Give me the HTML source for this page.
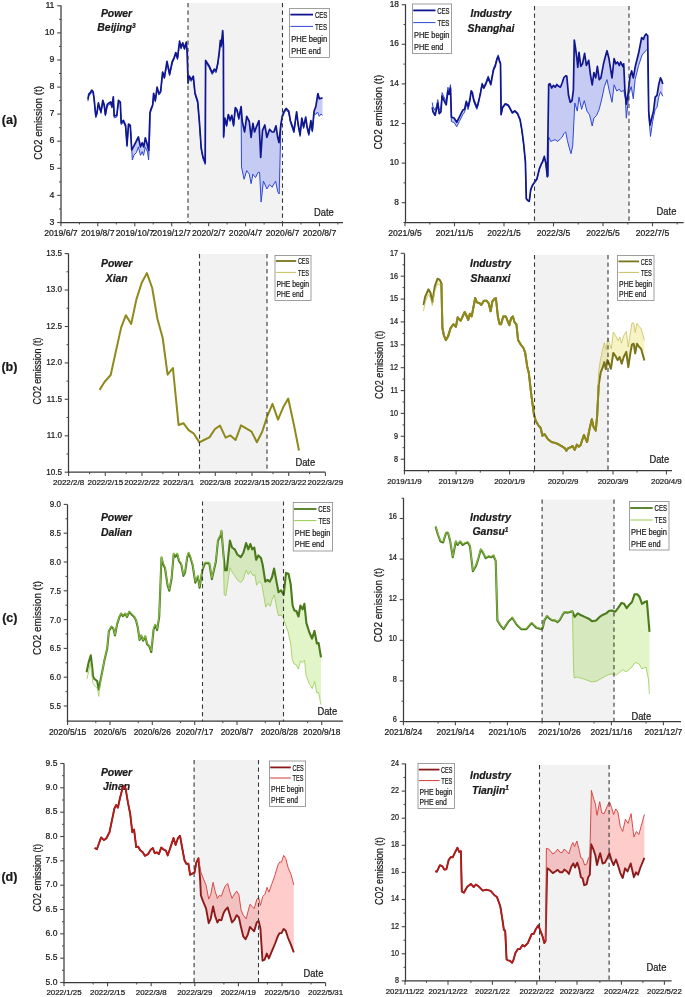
<!DOCTYPE html>
<html><head><meta charset="utf-8"><style>
html,body{margin:0;padding:0;background:#fff;}
svg{display:block;font-family:"Liberation Sans",sans-serif;}
text{stroke:#1a1a1a;stroke-width:0.22px;}
</style></head><body>
<svg width="685" height="997" viewBox="0 0 685 997">
<rect width="685" height="997" fill="#fff"/>
<rect x="188.0" y="3.0" width="94.5" height="219.5" fill="#f2f2f2"/>
<text x="116.5" y="17.0" font-size="10.4" font-weight="bold" font-style="italic" text-anchor="middle" fill="#1a1a1a">Power</text>
<text x="116.5" y="31.0" font-size="10.4" font-weight="bold" font-style="italic" text-anchor="middle" fill="#1a1a1a">Beijing<tspan font-size="6.5" dy="-3.5">3</tspan></text>
<polygon points="87.9,99.4 88.8,94.2 90.5,92.4 91.7,90.1 93.1,91.5 94.0,97.7 95.8,116.0 97.0,112.6 98.4,102.9 99.6,107.3 101.0,111.7 102.8,100.3 104.2,104.7 105.4,114.3 107.2,104.7 108.9,102.9 110.7,102.0 112.0,106.4 113.3,96.8 114.2,116.0 116.8,115.2 118.5,100.3 120.3,102.0 121.2,122.9 123.4,120.4 125.6,125.3 127.0,145.0 128.5,124.0 130.3,125.5 131.7,150.0 133.4,146.9 136.4,141.0 138.4,137.0 140.5,146.9 142.2,142.7 143.8,146.9 145.3,137.8 147.0,143.5 148.7,150.5 150.0,112.6 151.0,109.0 152.7,104.7 153.6,93.3 155.3,100.3 157.1,87.2 158.8,93.3 160.6,91.5 162.6,72.0 164.4,77.1 167.0,61.3 169.6,74.0 172.3,61.3 174.0,57.8 175.8,52.6 177.5,58.0 179.6,41.2 181.0,47.3 182.8,42.9 184.5,48.2 186.3,42.0 187.2,52.6 188.0,82.3 189.4,76.2 191.2,79.7 193.3,76.2 195.0,92.9 197.7,101.6 199.4,121.5 201.2,147.8 202.9,156.6 205.2,162.7 205.6,60.4 209.0,65.7 212.2,72.7 214.3,69.2 216.0,71.0 217.8,63.1 219.2,52.6 220.4,40.3 221.3,45.5 222.7,30.7 223.4,45.5 223.6,136.4 224.8,118.0 226.6,125.0 228.3,114.5 230.1,119.8 231.8,115.4 233.6,125.0 235.3,107.5 237.1,110.1 238.8,118.0 241.1,106.6 242.3,121.5 244.6,132.0 246.7,116.3 249.3,121.5 251.1,137.3 252.9,123.3 254.6,132.0 256.4,126.8 259.0,120.7 260.7,157.4 262.5,130.3 264.8,125.0 266.9,137.3 269.5,129.4 272.1,132.0 273.9,132.0 276.0,125.9 277.7,137.3 279.0,142.6 280.8,125.0 282.2,116.3 284.3,111.0 286.1,108.4 288.7,111.0 290.4,120.7 292.2,125.9 293.9,131.2 296.6,111.9 298.3,125.0 300.1,134.7 301.8,118.0 303.6,126.8 305.7,117.2 307.1,126.8 308.8,133.8 310.9,120.7 312.3,130.3 314.1,111.0 315.8,106.6 317.9,93.5 319.3,98.8 322.5,97.9 322.5,115.4 321.0,114.0 319.3,116.3 317.5,112.0 315.8,114.5 314.1,113.0 312.3,132.1 310.9,122.5 308.8,135.6 307.1,128.6 305.7,119.0 303.6,128.6 301.8,119.8 300.1,136.5 298.3,126.8 296.6,113.7 293.9,133.0 292.2,127.7 290.4,122.5 288.7,112.8 286.1,110.2 284.3,112.8 282.2,118.1 280.8,127.0 279.2,194.0 277.7,191.6 275.6,181.1 272.1,187.2 269.5,184.6 266.9,189.0 263.4,181.1 261.1,202.1 259.6,172.3 258.1,172.3 255.5,177.6 252.9,174.1 251.1,183.7 249.3,174.1 246.7,170.6 244.1,179.3 241.5,167.1 241.1,108.6 238.8,119.8 237.1,111.9 235.3,109.3 233.6,126.8 231.8,117.2 230.1,121.6 228.3,116.3 226.6,126.8 224.8,119.8 223.6,138.2 223.4,47.3 222.7,32.5 221.3,47.3 220.4,42.1 219.2,54.4 217.8,64.9 216.0,72.8 214.3,71.0 212.2,74.5 209.0,67.5 205.6,62.2 205.2,164.5 202.9,158.4 201.2,149.6 199.4,123.3 197.7,103.4 195.0,94.7 193.3,78.0 191.2,81.5 189.4,78.0 188.0,84.1 187.2,54.4 186.3,43.8 184.5,50.0 182.8,44.7 181.0,49.1 179.6,43.0 177.5,59.8 175.8,54.4 174.0,59.6 172.3,63.1 169.6,75.8 167.0,63.1 164.4,78.9 162.6,73.8 160.6,93.3 158.8,95.1 157.1,89.0 155.3,102.1 153.6,95.1 152.7,106.5 151.0,110.8 150.0,114.4 149.8,135.0 148.6,160.0 147.5,152.0 145.3,147.2 143.5,155.4 142.2,151.6 140.5,155.4 138.4,146.9 136.4,152.6 134.0,155.0 132.3,160.0 131.0,135.0 130.3,127.3 128.5,125.8 127.0,146.8 125.6,127.1 123.4,122.2 121.2,124.7 120.3,103.8 118.5,102.1 116.8,117.0 114.2,117.8 113.3,98.6 112.0,108.2 110.7,103.8 108.9,104.7 107.2,106.5 105.4,116.1 104.2,106.5 102.8,102.1 101.0,113.5 99.6,109.1 98.4,104.7 97.0,114.4 95.8,117.8 94.0,99.5 93.1,93.3 91.7,91.9 90.5,94.2 88.8,96.0 87.9,101.2" fill="#c5cbf2" stroke="none"/>
<polyline points="87.9,101.2 88.8,96.0 90.5,94.2 91.7,91.9 93.1,93.3 94.0,99.5 95.8,117.8 97.0,114.4 98.4,104.7 99.6,109.1 101.0,113.5 102.8,102.1 104.2,106.5 105.4,116.1 107.2,106.5 108.9,104.7 110.7,103.8 112.0,108.2 113.3,98.6 114.2,117.8 116.8,117.0 118.5,102.1 120.3,103.8 121.2,124.7 123.4,122.2 125.6,127.1 127.0,146.8 128.5,125.8 130.3,127.3 131.0,135.0 132.3,160.0 134.0,155.0 136.4,152.6 138.4,146.9 140.5,155.4 142.2,151.6 143.5,155.4 145.3,147.2 147.5,152.0 148.6,160.0 149.8,135.0 150.0,114.4 151.0,110.8 152.7,106.5 153.6,95.1 155.3,102.1 157.1,89.0 158.8,95.1 160.6,93.3 162.6,73.8 164.4,78.9 167.0,63.1 169.6,75.8 172.3,63.1 174.0,59.6 175.8,54.4 177.5,59.8 179.6,43.0 181.0,49.1 182.8,44.7 184.5,50.0 186.3,43.8 187.2,54.4 188.0,84.1 189.4,78.0 191.2,81.5 193.3,78.0 195.0,94.7 197.7,103.4 199.4,123.3 201.2,149.6 202.9,158.4 205.2,164.5 205.6,62.2 209.0,67.5 212.2,74.5 214.3,71.0 216.0,72.8 217.8,64.9 219.2,54.4 220.4,42.1 221.3,47.3 222.7,32.5 223.4,47.3 223.6,138.2 224.8,119.8 226.6,126.8 228.3,116.3 230.1,121.6 231.8,117.2 233.6,126.8 235.3,109.3 237.1,111.9 238.8,119.8 241.1,108.6 241.5,167.1 244.1,179.3 246.7,170.6 249.3,174.1 251.1,183.7 252.9,174.1 255.5,177.6 258.1,172.3 259.6,172.3 261.1,202.1 263.4,181.1 266.9,189.0 269.5,184.6 272.1,187.2 275.6,181.1 277.7,191.6 279.2,194.0 280.8,127.0 282.2,118.1 284.3,112.8 286.1,110.2 288.7,112.8 290.4,122.5 292.2,127.7 293.9,133.0 296.6,113.7 298.3,126.8 300.1,136.5 301.8,119.8 303.6,128.6 305.7,119.0 307.1,128.6 308.8,135.6 310.9,122.5 312.3,132.1 314.1,113.0 315.8,114.5 317.5,112.0 319.3,116.3 321.0,114.0 322.5,115.4" fill="none" stroke="#3048d8" stroke-width="1.0" stroke-linejoin="round"/>
<polyline points="87.9,99.4 88.8,94.2 90.5,92.4 91.7,90.1 93.1,91.5 94.0,97.7 95.8,116.0 97.0,112.6 98.4,102.9 99.6,107.3 101.0,111.7 102.8,100.3 104.2,104.7 105.4,114.3 107.2,104.7 108.9,102.9 110.7,102.0 112.0,106.4 113.3,96.8 114.2,116.0 116.8,115.2 118.5,100.3 120.3,102.0 121.2,122.9 123.4,120.4 125.6,125.3 127.0,145.0 128.5,124.0 130.3,125.5 131.7,150.0 133.4,146.9 136.4,141.0 138.4,137.0 140.5,146.9 142.2,142.7 143.8,146.9 145.3,137.8 147.0,143.5 148.7,150.5 150.0,112.6 151.0,109.0 152.7,104.7 153.6,93.3 155.3,100.3 157.1,87.2 158.8,93.3 160.6,91.5 162.6,72.0 164.4,77.1 167.0,61.3 169.6,74.0 172.3,61.3 174.0,57.8 175.8,52.6 177.5,58.0 179.6,41.2 181.0,47.3 182.8,42.9 184.5,48.2 186.3,42.0 187.2,52.6 188.0,82.3 189.4,76.2 191.2,79.7 193.3,76.2 195.0,92.9 197.7,101.6 199.4,121.5 201.2,147.8 202.9,156.6 205.2,162.7 205.6,60.4 209.0,65.7 212.2,72.7 214.3,69.2 216.0,71.0 217.8,63.1 219.2,52.6 220.4,40.3 221.3,45.5 222.7,30.7 223.4,45.5 223.6,136.4 224.8,118.0 226.6,125.0 228.3,114.5 230.1,119.8 231.8,115.4 233.6,125.0 235.3,107.5 237.1,110.1 238.8,118.0 241.1,106.6 242.3,121.5 244.6,132.0 246.7,116.3 249.3,121.5 251.1,137.3 252.9,123.3 254.6,132.0 256.4,126.8 259.0,120.7 260.7,157.4 262.5,130.3 264.8,125.0 266.9,137.3 269.5,129.4 272.1,132.0 273.9,132.0 276.0,125.9 277.7,137.3 279.0,142.6 280.8,125.0 282.2,116.3 284.3,111.0 286.1,108.4 288.7,111.0 290.4,120.7 292.2,125.9 293.9,131.2 296.6,111.9 298.3,125.0 300.1,134.7 301.8,118.0 303.6,126.8 305.7,117.2 307.1,126.8 308.8,133.8 310.9,120.7 312.3,130.3 314.1,111.0 315.8,106.6 317.9,93.5 319.3,98.8 322.5,97.9" fill="none" stroke="#10168f" stroke-width="1.7" stroke-linejoin="round"/>
<line x1="188.0" y1="3.0" x2="188.0" y2="222.5" stroke="#383838" stroke-width="1.1" stroke-dasharray="4.2,3.32"/>
<line x1="282.5" y1="3.0" x2="282.5" y2="222.5" stroke="#383838" stroke-width="1.1" stroke-dasharray="4.2,3.32"/>
<line x1="61.0" y1="5.3" x2="61.0" y2="223.2" stroke="#3a3a3a" stroke-width="1.25"/>
<line x1="60.3" y1="222.5" x2="343.0" y2="222.5" stroke="#3a3a3a" stroke-width="1.25"/>
<line x1="57.2" y1="222.5" x2="61.0" y2="222.5" stroke="#484848" stroke-width="1.1"/>
<text transform="translate(54.5,224.6) scale(1.0,1)" font-size="8.77" text-anchor="end" fill="#1a1a1a">3</text>
<line x1="57.2" y1="195.4" x2="61.0" y2="195.4" stroke="#484848" stroke-width="1.1"/>
<text transform="translate(54.5,197.5) scale(1.0,1)" font-size="8.77" text-anchor="end" fill="#1a1a1a">4</text>
<line x1="57.2" y1="168.3" x2="61.0" y2="168.3" stroke="#484848" stroke-width="1.1"/>
<text transform="translate(54.5,170.4) scale(1.0,1)" font-size="8.77" text-anchor="end" fill="#1a1a1a">5</text>
<line x1="57.2" y1="141.2" x2="61.0" y2="141.2" stroke="#484848" stroke-width="1.1"/>
<text transform="translate(54.5,143.3) scale(1.0,1)" font-size="8.77" text-anchor="end" fill="#1a1a1a">6</text>
<line x1="57.2" y1="114.1" x2="61.0" y2="114.1" stroke="#484848" stroke-width="1.1"/>
<text transform="translate(54.5,116.2) scale(1.0,1)" font-size="8.77" text-anchor="end" fill="#1a1a1a">7</text>
<line x1="57.2" y1="87.1" x2="61.0" y2="87.1" stroke="#484848" stroke-width="1.1"/>
<text transform="translate(54.5,89.2) scale(1.0,1)" font-size="8.77" text-anchor="end" fill="#1a1a1a">8</text>
<line x1="57.2" y1="60.0" x2="61.0" y2="60.0" stroke="#484848" stroke-width="1.1"/>
<text transform="translate(54.5,62.1) scale(1.0,1)" font-size="8.77" text-anchor="end" fill="#1a1a1a">9</text>
<line x1="57.2" y1="32.9" x2="61.0" y2="32.9" stroke="#484848" stroke-width="1.1"/>
<text transform="translate(54.5,35.0) scale(1.0,1)" font-size="8.77" text-anchor="end" fill="#1a1a1a">10</text>
<line x1="57.2" y1="5.8" x2="61.0" y2="5.8" stroke="#484848" stroke-width="1.1"/>
<text transform="translate(54.5,7.9) scale(1.0,1)" font-size="8.77" text-anchor="end" fill="#1a1a1a">11</text>
<line x1="59.0" y1="209.0" x2="61.0" y2="209.0" stroke="#484848" stroke-width="1.0"/>
<line x1="59.0" y1="181.9" x2="61.0" y2="181.9" stroke="#484848" stroke-width="1.0"/>
<line x1="59.0" y1="154.8" x2="61.0" y2="154.8" stroke="#484848" stroke-width="1.0"/>
<line x1="59.0" y1="127.7" x2="61.0" y2="127.7" stroke="#484848" stroke-width="1.0"/>
<line x1="59.0" y1="100.6" x2="61.0" y2="100.6" stroke="#484848" stroke-width="1.0"/>
<line x1="59.0" y1="73.5" x2="61.0" y2="73.5" stroke="#484848" stroke-width="1.0"/>
<line x1="59.0" y1="46.4" x2="61.0" y2="46.4" stroke="#484848" stroke-width="1.0"/>
<line x1="59.0" y1="19.3" x2="61.0" y2="19.3" stroke="#484848" stroke-width="1.0"/>
<line x1="60.9" y1="222.5" x2="60.9" y2="226.3" stroke="#484848" stroke-width="1.1"/>
<text x="60.9" y="236.0" font-size="8.6" text-anchor="middle" fill="#1a1a1a">2019/6/7</text>
<line x1="97.8" y1="222.5" x2="97.8" y2="226.3" stroke="#484848" stroke-width="1.1"/>
<text x="97.8" y="236.0" font-size="8.6" text-anchor="middle" fill="#1a1a1a">2019/8/7</text>
<line x1="134.8" y1="222.5" x2="134.8" y2="226.3" stroke="#484848" stroke-width="1.1"/>
<text x="134.8" y="236.0" font-size="8.6" text-anchor="middle" fill="#1a1a1a">2019/10/7</text>
<line x1="171.7" y1="222.5" x2="171.7" y2="226.3" stroke="#484848" stroke-width="1.1"/>
<text x="171.7" y="236.0" font-size="8.6" text-anchor="middle" fill="#1a1a1a">2019/12/7</text>
<line x1="208.7" y1="222.5" x2="208.7" y2="226.3" stroke="#484848" stroke-width="1.1"/>
<text x="208.7" y="236.0" font-size="8.6" text-anchor="middle" fill="#1a1a1a">2020/2/7</text>
<line x1="245.6" y1="222.5" x2="245.6" y2="226.3" stroke="#484848" stroke-width="1.1"/>
<text x="245.6" y="236.0" font-size="8.6" text-anchor="middle" fill="#1a1a1a">2020/4/7</text>
<line x1="282.5" y1="222.5" x2="282.5" y2="226.3" stroke="#484848" stroke-width="1.1"/>
<text x="282.5" y="236.0" font-size="8.6" text-anchor="middle" fill="#1a1a1a">2020/6/7</text>
<line x1="319.5" y1="222.5" x2="319.5" y2="226.3" stroke="#484848" stroke-width="1.1"/>
<text x="319.5" y="236.0" font-size="8.6" text-anchor="middle" fill="#1a1a1a">2020/8/7</text>
<line x1="79.4" y1="222.5" x2="79.4" y2="224.5" stroke="#484848" stroke-width="1.0"/>
<line x1="116.3" y1="222.5" x2="116.3" y2="224.5" stroke="#484848" stroke-width="1.0"/>
<line x1="153.2" y1="222.5" x2="153.2" y2="224.5" stroke="#484848" stroke-width="1.0"/>
<line x1="190.2" y1="222.5" x2="190.2" y2="224.5" stroke="#484848" stroke-width="1.0"/>
<line x1="227.1" y1="222.5" x2="227.1" y2="224.5" stroke="#484848" stroke-width="1.0"/>
<line x1="264.1" y1="222.5" x2="264.1" y2="224.5" stroke="#484848" stroke-width="1.0"/>
<line x1="301.0" y1="222.5" x2="301.0" y2="224.5" stroke="#484848" stroke-width="1.0"/>
<line x1="337.9" y1="222.5" x2="337.9" y2="224.5" stroke="#484848" stroke-width="1.0"/>
<rect x="289.6" y="8.4" width="39.8" height="49.0" fill="#fff" stroke="#888" stroke-width="0.8"/>
<line x1="290.4" y1="14.6" x2="313.0" y2="14.6" stroke="#10168f" stroke-width="1.8"/>
<line x1="290.4" y1="26.4" x2="313.0" y2="26.4" stroke="#3048d8" stroke-width="1.0"/>
<text x="314.9" y="17.9" font-size="8.5" fill="#1a1a1a" textLength="12.5" lengthAdjust="spacingAndGlyphs">CES</text>
<text x="315.1" y="29.7" font-size="8.5" fill="#1a1a1a" textLength="12.0" lengthAdjust="spacingAndGlyphs">TES</text>
<text x="291.2" y="42.0" font-size="8.5" fill="#1a1a1a" textLength="36.0" lengthAdjust="spacingAndGlyphs">PHE begin</text>
<text x="291.2" y="53.7" font-size="8.5" fill="#1a1a1a" textLength="29.8" lengthAdjust="spacingAndGlyphs">PHE end</text>
<text x="314.0" y="216.0" font-size="10.4" fill="#1a1a1a" textLength="19.8" lengthAdjust="spacingAndGlyphs">Date</text>
<text x="0" y="0" transform="translate(41.9,122.8) rotate(-90)" font-size="10.3" text-anchor="middle" fill="#1a1a1a" textLength="73.8" lengthAdjust="spacingAndGlyphs">CO2 emission (t)</text>
<text x="1.8" y="124.0" font-size="12.5" font-weight="bold" fill="#1a1a1a">(a)</text>
<rect x="534.5" y="6.0" width="94.5" height="216.5" fill="#f2f2f2"/>
<text x="491.0" y="17.0" font-size="10.4" font-weight="bold" font-style="italic" text-anchor="middle" fill="#1a1a1a">Industry</text>
<text x="491.0" y="31.6" font-size="10.4" font-weight="bold" font-style="italic" text-anchor="middle" fill="#1a1a1a">Shanghai</text>
<polygon points="432.2,107.4 433.0,111.8 435.1,115.3 436.5,109.2 437.8,103.1 439.2,113.6 440.9,111.8 442.1,96.1 443.9,100.4 446.2,104.8 447.9,90.8 449.1,94.3 450.5,88.2 451.4,117.1 454.1,118.0 456.7,122.3 459.3,117.1 462.8,110.1 464.6,109.2 466.3,101.3 468.1,106.6 469.8,99.6 471.2,90.8 472.4,92.6 473.7,99.6 475.1,103.1 476.8,107.4 478.2,103.1 480.3,94.3 482.1,84.7 483.8,88.2 485.6,84.7 488.2,77.7 490.8,84.7 493.5,69.8 495.2,66.3 497.0,59.3 498.2,56.6 499.6,61.9 500.5,63.7 501.1,114.3 502.6,107.3 505.3,103.8 507.9,104.7 509.6,107.3 512.3,112.6 514.9,110.8 517.5,113.4 520.1,119.6 521.9,130.1 523.7,144.1 525.4,161.6 526.3,198.4 527.7,200.2 529.3,201.0 530.7,189.6 532.4,185.3 534.2,182.6 536.8,179.1 539.4,168.6 541.2,164.2 542.6,161.6 544.3,156.4 545.9,163.4 547.3,176.5 548.7,84.5 549.9,83.7 551.7,88.0 553.4,85.4 555.2,87.2 556.9,84.5 558.7,86.3 560.4,87.2 562.2,82.8 563.9,77.5 565.7,75.8 566.8,76.1 568.5,95.3 570.3,102.3 572.0,100.6 573.4,90.1 574.3,40.1 575.5,48.0 576.9,58.5 577.8,67.3 579.0,52.4 580.8,66.4 582.5,63.8 584.6,53.3 586.4,65.5 588.7,60.3 590.4,74.3 592.2,84.8 593.9,72.6 595.7,77.8 597.4,66.4 599.2,79.6 600.9,77.8 603.5,63.8 605.3,56.8 607.0,50.7 608.8,57.7 610.6,69.1 612.0,77.8 614.1,58.5 615.8,63.8 617.6,62.0 619.3,65.5 620.7,62.0 622.8,66.4 623.7,63.8 624.9,90.1 626.3,104.1 628.1,93.6 629.8,77.8 631.6,70.8 633.3,77.8 635.1,67.3 636.8,60.3 638.6,53.3 640.3,44.5 641.7,37.5 643.5,39.3 644.7,35.8 646.1,34.0 647.7,35.8 648.7,111.1 650.0,125.1 651.7,118.1 653.5,111.1 655.2,97.1 657.0,95.3 658.7,84.8 660.5,77.8 661.7,80.4 662.8,83.9 662.8,96.2 660.5,91.8 658.7,97.1 657.0,107.6 655.2,109.3 652.6,121.6 650.5,136.5 648.7,114.6 647.7,50.7 646.5,49.8 642.1,55.0 638.6,65.5 635.1,79.6 633.3,98.8 631.2,86.6 629.0,93.6 626.3,118.1 625.4,98.8 623.7,90.1 621.1,91.8 619.3,89.2 616.7,91.0 614.1,84.8 612.0,102.3 609.1,90.1 607.0,79.6 604.4,86.6 601.8,98.8 599.2,109.3 596.5,115.5 593.9,118.1 592.2,126.0 589.5,114.6 586.9,111.1 584.3,100.6 581.6,109.3 579.0,97.1 577.3,111.1 574.8,103.0 572.7,145.8 571.0,153.7 569.2,147.6 567.4,140.6 565.7,131.8 563.9,133.6 562.2,137.1 560.4,138.8 557.8,141.5 555.2,139.7 552.6,140.6 550.8,141.5 548.7,137.1 548.4,176.0 547.3,177.5 545.9,164.4 544.3,157.4 542.6,162.6 541.2,165.2 539.4,169.6 536.8,180.1 534.2,183.6 532.4,186.3 530.7,190.6 529.3,202.0 527.7,201.2 526.3,199.4 525.4,162.6 523.7,145.1 521.9,131.1 520.1,120.6 517.5,114.4 514.9,111.8 512.3,113.6 509.6,108.3 507.9,105.7 505.3,104.8 502.6,108.3 501.1,115.3 500.5,61.9 499.6,60.1 498.2,54.8 497.0,57.5 495.2,64.5 493.5,68.0 490.8,82.9 488.2,75.9 485.6,82.9 483.8,86.4 482.1,82.9 480.3,92.5 478.2,105.1 476.8,109.4 475.1,105.1 473.7,101.6 472.4,94.6 471.2,92.8 469.8,102.6 468.1,109.6 466.3,104.3 464.6,112.2 462.8,114.6 459.3,121.6 456.7,126.8 454.1,122.5 451.4,121.6 450.5,84.7 449.1,90.8 447.9,87.3 446.2,101.3 443.9,96.9 442.1,92.6 440.9,108.3 439.2,110.1 437.8,99.6 436.5,105.7 435.1,110.3 433.0,106.8 432.2,102.4" fill="#c5cbf2" stroke="none"/>
<polyline points="432.2,102.4 433.0,106.8 435.1,110.3 436.5,105.7 437.8,99.6 439.2,110.1 440.9,108.3 442.1,92.6 443.9,96.9 446.2,101.3 447.9,87.3 449.1,90.8 450.5,84.7 451.4,121.6 454.1,122.5 456.7,126.8 459.3,121.6 462.8,114.6 464.6,112.2 466.3,104.3 468.1,109.6 469.8,102.6 471.2,92.8 472.4,94.6 473.7,101.6 475.1,105.1 476.8,109.4 478.2,105.1 480.3,92.5 482.1,82.9 483.8,86.4 485.6,82.9 488.2,75.9 490.8,82.9 493.5,68.0 495.2,64.5 497.0,57.5 498.2,54.8 499.6,60.1 500.5,61.9 501.1,115.3 502.6,108.3 505.3,104.8 507.9,105.7 509.6,108.3 512.3,113.6 514.9,111.8 517.5,114.4 520.1,120.6 521.9,131.1 523.7,145.1 525.4,162.6 526.3,199.4 527.7,201.2 529.3,202.0 530.7,190.6 532.4,186.3 534.2,183.6 536.8,180.1 539.4,169.6 541.2,165.2 542.6,162.6 544.3,157.4 545.9,164.4 547.3,177.5 548.4,176.0 548.7,137.1 550.8,141.5 552.6,140.6 555.2,139.7 557.8,141.5 560.4,138.8 562.2,137.1 563.9,133.6 565.7,131.8 567.4,140.6 569.2,147.6 571.0,153.7 572.7,145.8 574.8,103.0 577.3,111.1 579.0,97.1 581.6,109.3 584.3,100.6 586.9,111.1 589.5,114.6 592.2,126.0 593.9,118.1 596.5,115.5 599.2,109.3 601.8,98.8 604.4,86.6 607.0,79.6 609.1,90.1 612.0,102.3 614.1,84.8 616.7,91.0 619.3,89.2 621.1,91.8 623.7,90.1 625.4,98.8 626.3,118.1 629.0,93.6 631.2,86.6 633.3,98.8 635.1,79.6 638.6,65.5 642.1,55.0 646.5,49.8 647.7,50.7 648.7,114.6 650.5,136.5 652.6,121.6 655.2,109.3 657.0,107.6 658.7,97.1 660.5,91.8 662.8,96.2" fill="none" stroke="#3048d8" stroke-width="1.0" stroke-linejoin="round"/>
<polyline points="432.2,107.4 433.0,111.8 435.1,115.3 436.5,109.2 437.8,103.1 439.2,113.6 440.9,111.8 442.1,96.1 443.9,100.4 446.2,104.8 447.9,90.8 449.1,94.3 450.5,88.2 451.4,117.1 454.1,118.0 456.7,122.3 459.3,117.1 462.8,110.1 464.6,109.2 466.3,101.3 468.1,106.6 469.8,99.6 471.2,90.8 472.4,92.6 473.7,99.6 475.1,103.1 476.8,107.4 478.2,103.1 480.3,94.3 482.1,84.7 483.8,88.2 485.6,84.7 488.2,77.7 490.8,84.7 493.5,69.8 495.2,66.3 497.0,59.3 498.2,56.6 499.6,61.9 500.5,63.7 501.1,114.3 502.6,107.3 505.3,103.8 507.9,104.7 509.6,107.3 512.3,112.6 514.9,110.8 517.5,113.4 520.1,119.6 521.9,130.1 523.7,144.1 525.4,161.6 526.3,198.4 527.7,200.2 529.3,201.0 530.7,189.6 532.4,185.3 534.2,182.6 536.8,179.1 539.4,168.6 541.2,164.2 542.6,161.6 544.3,156.4 545.9,163.4 547.3,176.5 548.7,84.5 549.9,83.7 551.7,88.0 553.4,85.4 555.2,87.2 556.9,84.5 558.7,86.3 560.4,87.2 562.2,82.8 563.9,77.5 565.7,75.8 566.8,76.1 568.5,95.3 570.3,102.3 572.0,100.6 573.4,90.1 574.3,40.1 575.5,48.0 576.9,58.5 577.8,67.3 579.0,52.4 580.8,66.4 582.5,63.8 584.6,53.3 586.4,65.5 588.7,60.3 590.4,74.3 592.2,84.8 593.9,72.6 595.7,77.8 597.4,66.4 599.2,79.6 600.9,77.8 603.5,63.8 605.3,56.8 607.0,50.7 608.8,57.7 610.6,69.1 612.0,77.8 614.1,58.5 615.8,63.8 617.6,62.0 619.3,65.5 620.7,62.0 622.8,66.4 623.7,63.8 624.9,90.1 626.3,104.1 628.1,93.6 629.8,77.8 631.6,70.8 633.3,77.8 635.1,67.3 636.8,60.3 638.6,53.3 640.3,44.5 641.7,37.5 643.5,39.3 644.7,35.8 646.1,34.0 647.7,35.8 648.7,111.1 650.0,125.1 651.7,118.1 653.5,111.1 655.2,97.1 657.0,95.3 658.7,84.8 660.5,77.8 661.7,80.4 662.8,83.9" fill="none" stroke="#10168f" stroke-width="1.7" stroke-linejoin="round"/>
<line x1="534.5" y1="6.0" x2="534.5" y2="222.5" stroke="#383838" stroke-width="1.1" stroke-dasharray="4.2,3.32"/>
<line x1="629.0" y1="6.0" x2="629.0" y2="222.5" stroke="#383838" stroke-width="1.1" stroke-dasharray="4.2,3.32"/>
<line x1="405.5" y1="4.4" x2="405.5" y2="223.2" stroke="#3a3a3a" stroke-width="1.25"/>
<line x1="404.8" y1="222.5" x2="683.6" y2="222.5" stroke="#3a3a3a" stroke-width="1.25"/>
<line x1="401.7" y1="202.7" x2="405.5" y2="202.7" stroke="#484848" stroke-width="1.1"/>
<text transform="translate(399.0,204.8) scale(0.95,1)" font-size="8.77" text-anchor="end" fill="#1a1a1a">8</text>
<line x1="401.7" y1="163.1" x2="405.5" y2="163.1" stroke="#484848" stroke-width="1.1"/>
<text transform="translate(399.0,165.2) scale(0.95,1)" font-size="8.77" text-anchor="end" fill="#1a1a1a">10</text>
<line x1="401.7" y1="123.5" x2="405.5" y2="123.5" stroke="#484848" stroke-width="1.1"/>
<text transform="translate(399.0,125.6) scale(0.95,1)" font-size="8.77" text-anchor="end" fill="#1a1a1a">12</text>
<line x1="401.7" y1="83.9" x2="405.5" y2="83.9" stroke="#484848" stroke-width="1.1"/>
<text transform="translate(399.0,86.0) scale(0.95,1)" font-size="8.77" text-anchor="end" fill="#1a1a1a">14</text>
<line x1="401.7" y1="44.3" x2="405.5" y2="44.3" stroke="#484848" stroke-width="1.1"/>
<text transform="translate(399.0,46.4) scale(0.95,1)" font-size="8.77" text-anchor="end" fill="#1a1a1a">16</text>
<line x1="401.7" y1="4.7" x2="405.5" y2="4.7" stroke="#484848" stroke-width="1.1"/>
<text transform="translate(399.0,6.8) scale(0.95,1)" font-size="8.77" text-anchor="end" fill="#1a1a1a">18</text>
<line x1="403.5" y1="222.5" x2="405.5" y2="222.5" stroke="#484848" stroke-width="1.0"/>
<line x1="403.5" y1="182.9" x2="405.5" y2="182.9" stroke="#484848" stroke-width="1.0"/>
<line x1="403.5" y1="143.3" x2="405.5" y2="143.3" stroke="#484848" stroke-width="1.0"/>
<line x1="403.5" y1="103.7" x2="405.5" y2="103.7" stroke="#484848" stroke-width="1.0"/>
<line x1="403.5" y1="64.1" x2="405.5" y2="64.1" stroke="#484848" stroke-width="1.0"/>
<line x1="403.5" y1="24.5" x2="405.5" y2="24.5" stroke="#484848" stroke-width="1.0"/>
<line x1="405.0" y1="222.5" x2="405.0" y2="226.3" stroke="#484848" stroke-width="1.1"/>
<text x="405.0" y="236.0" font-size="8.6" text-anchor="middle" fill="#1a1a1a">2021/9/5</text>
<line x1="454.5" y1="222.5" x2="454.5" y2="226.3" stroke="#484848" stroke-width="1.1"/>
<text x="454.5" y="236.0" font-size="8.6" text-anchor="middle" fill="#1a1a1a">2021/11/5</text>
<line x1="504.0" y1="222.5" x2="504.0" y2="226.3" stroke="#484848" stroke-width="1.1"/>
<text x="504.0" y="236.0" font-size="8.6" text-anchor="middle" fill="#1a1a1a">2022/1/5</text>
<line x1="553.5" y1="222.5" x2="553.5" y2="226.3" stroke="#484848" stroke-width="1.1"/>
<text x="553.5" y="236.0" font-size="8.6" text-anchor="middle" fill="#1a1a1a">2022/3/5</text>
<line x1="603.0" y1="222.5" x2="603.0" y2="226.3" stroke="#484848" stroke-width="1.1"/>
<text x="603.0" y="236.0" font-size="8.6" text-anchor="middle" fill="#1a1a1a">2022/5/5</text>
<line x1="652.5" y1="222.5" x2="652.5" y2="226.3" stroke="#484848" stroke-width="1.1"/>
<text x="652.5" y="236.0" font-size="8.6" text-anchor="middle" fill="#1a1a1a">2022/7/5</text>
<line x1="429.8" y1="222.5" x2="429.8" y2="224.5" stroke="#484848" stroke-width="1.0"/>
<line x1="479.2" y1="222.5" x2="479.2" y2="224.5" stroke="#484848" stroke-width="1.0"/>
<line x1="528.8" y1="222.5" x2="528.8" y2="224.5" stroke="#484848" stroke-width="1.0"/>
<line x1="578.2" y1="222.5" x2="578.2" y2="224.5" stroke="#484848" stroke-width="1.0"/>
<line x1="627.8" y1="222.5" x2="627.8" y2="224.5" stroke="#484848" stroke-width="1.0"/>
<line x1="677.2" y1="222.5" x2="677.2" y2="224.5" stroke="#484848" stroke-width="1.0"/>
<rect x="412.4" y="4.0" width="39.2" height="49.4" fill="#fff" stroke="#888" stroke-width="0.8"/>
<line x1="413.2" y1="10.4" x2="435.5" y2="10.4" stroke="#10168f" stroke-width="1.8"/>
<line x1="413.2" y1="22.6" x2="435.5" y2="22.6" stroke="#3048d8" stroke-width="1.0"/>
<text x="437.3" y="13.7" font-size="8.5" fill="#1a1a1a" textLength="12.3" lengthAdjust="spacingAndGlyphs">CES</text>
<text x="437.5" y="25.9" font-size="8.5" fill="#1a1a1a" textLength="11.8" lengthAdjust="spacingAndGlyphs">TES</text>
<text x="414.0" y="38.0" font-size="8.5" fill="#1a1a1a" textLength="35.5" lengthAdjust="spacingAndGlyphs">PHE begin</text>
<text x="414.0" y="49.7" font-size="8.5" fill="#1a1a1a" textLength="29.4" lengthAdjust="spacingAndGlyphs">PHE end</text>
<text x="656.6" y="215.0" font-size="10.4" fill="#1a1a1a" textLength="19.8" lengthAdjust="spacingAndGlyphs">Date</text>
<text x="0" y="0" transform="translate(381.8,112.2) rotate(-90)" font-size="10.3" text-anchor="middle" fill="#1a1a1a" textLength="74.8" lengthAdjust="spacingAndGlyphs">CO2 emission (t)</text>
<rect x="199.5" y="254.0" width="67.5" height="218.2" fill="#f2f2f2"/>
<text x="116.7" y="267.0" font-size="10.4" font-weight="bold" font-style="italic" text-anchor="middle" fill="#1a1a1a">Power</text>
<text x="116.7" y="281.6" font-size="10.4" font-weight="bold" font-style="italic" text-anchor="middle" fill="#1a1a1a">Xian</text>
<polyline points="99.6,389.9 104.5,382.0 110.7,375.0 116.3,349.4 121.2,327.4 125.9,315.2 131.2,323.9 136.4,299.4 141.7,282.8 146.9,273.1 152.2,288.0 157.4,318.7 162.7,338.0 167.6,374.7 172.9,368.0 178.6,425.0 183.4,423.2 188.6,430.2 193.9,433.7 199.4,442.4 204.0,440.0 209.4,437.4 215.0,429.0 220.0,425.6 225.6,437.6 230.4,435.4 235.6,440.0 241.0,425.4 246.6,428.6 251.6,431.6 256.9,442.3 262.2,431.8 266.9,417.2 272.5,403.8 278.0,419.6 283.2,407.3 288.2,398.5 293.7,423.7 299.0,450.5" fill="none" stroke="#8f891c" stroke-width="2.0" stroke-linejoin="round"/>
<line x1="199.5" y1="254.0" x2="199.5" y2="472.2" stroke="#383838" stroke-width="1.1" stroke-dasharray="4.2,3.32"/>
<line x1="267.0" y1="254.0" x2="267.0" y2="472.2" stroke="#383838" stroke-width="1.1" stroke-dasharray="4.2,3.32"/>
<line x1="68.5" y1="253.4" x2="68.5" y2="472.9" stroke="#3a3a3a" stroke-width="1.25"/>
<line x1="67.8" y1="472.2" x2="325.4" y2="472.2" stroke="#3a3a3a" stroke-width="1.25"/>
<line x1="64.7" y1="472.2" x2="68.5" y2="472.2" stroke="#484848" stroke-width="1.1"/>
<text transform="translate(62.0,474.5) scale(1.0,1)" font-size="8.13" text-anchor="end" fill="#1a1a1a">10.5</text>
<line x1="64.7" y1="435.8" x2="68.5" y2="435.8" stroke="#484848" stroke-width="1.1"/>
<text transform="translate(62.0,438.1) scale(1.0,1)" font-size="8.13" text-anchor="end" fill="#1a1a1a">11.0</text>
<line x1="64.7" y1="399.3" x2="68.5" y2="399.3" stroke="#484848" stroke-width="1.1"/>
<text transform="translate(62.0,401.6) scale(1.0,1)" font-size="8.13" text-anchor="end" fill="#1a1a1a">11.5</text>
<line x1="64.7" y1="362.9" x2="68.5" y2="362.9" stroke="#484848" stroke-width="1.1"/>
<text transform="translate(62.0,365.2) scale(1.0,1)" font-size="8.13" text-anchor="end" fill="#1a1a1a">12.0</text>
<line x1="64.7" y1="326.5" x2="68.5" y2="326.5" stroke="#484848" stroke-width="1.1"/>
<text transform="translate(62.0,328.8) scale(1.0,1)" font-size="8.13" text-anchor="end" fill="#1a1a1a">12.5</text>
<line x1="64.7" y1="290.0" x2="68.5" y2="290.0" stroke="#484848" stroke-width="1.1"/>
<text transform="translate(62.0,292.3) scale(1.0,1)" font-size="8.13" text-anchor="end" fill="#1a1a1a">13.0</text>
<line x1="64.7" y1="253.6" x2="68.5" y2="253.6" stroke="#484848" stroke-width="1.1"/>
<text transform="translate(62.0,255.9) scale(1.0,1)" font-size="8.13" text-anchor="end" fill="#1a1a1a">13.5</text>
<line x1="66.5" y1="454.0" x2="68.5" y2="454.0" stroke="#484848" stroke-width="1.0"/>
<line x1="66.5" y1="417.5" x2="68.5" y2="417.5" stroke="#484848" stroke-width="1.0"/>
<line x1="66.5" y1="381.1" x2="68.5" y2="381.1" stroke="#484848" stroke-width="1.0"/>
<line x1="66.5" y1="344.7" x2="68.5" y2="344.7" stroke="#484848" stroke-width="1.0"/>
<line x1="66.5" y1="308.2" x2="68.5" y2="308.2" stroke="#484848" stroke-width="1.0"/>
<line x1="66.5" y1="271.8" x2="68.5" y2="271.8" stroke="#484848" stroke-width="1.0"/>
<line x1="68.6" y1="472.2" x2="68.6" y2="476.0" stroke="#484848" stroke-width="1.1"/>
<text x="68.6" y="485.0" font-size="8.0" text-anchor="middle" fill="#1a1a1a">2022/2/8</text>
<line x1="105.3" y1="472.2" x2="105.3" y2="476.0" stroke="#484848" stroke-width="1.1"/>
<text x="105.3" y="485.0" font-size="8.0" text-anchor="middle" fill="#1a1a1a">2022/2/15</text>
<line x1="142.0" y1="472.2" x2="142.0" y2="476.0" stroke="#484848" stroke-width="1.1"/>
<text x="142.0" y="485.0" font-size="8.0" text-anchor="middle" fill="#1a1a1a">2022/2/22</text>
<line x1="178.6" y1="472.2" x2="178.6" y2="476.0" stroke="#484848" stroke-width="1.1"/>
<text x="178.6" y="485.0" font-size="8.0" text-anchor="middle" fill="#1a1a1a">2022/3/1</text>
<line x1="215.3" y1="472.2" x2="215.3" y2="476.0" stroke="#484848" stroke-width="1.1"/>
<text x="215.3" y="485.0" font-size="8.0" text-anchor="middle" fill="#1a1a1a">2022/3/8</text>
<line x1="252.0" y1="472.2" x2="252.0" y2="476.0" stroke="#484848" stroke-width="1.1"/>
<text x="252.0" y="485.0" font-size="8.0" text-anchor="middle" fill="#1a1a1a">2022/3/15</text>
<line x1="288.7" y1="472.2" x2="288.7" y2="476.0" stroke="#484848" stroke-width="1.1"/>
<text x="288.7" y="485.0" font-size="8.0" text-anchor="middle" fill="#1a1a1a">2022/3/22</text>
<line x1="325.4" y1="472.2" x2="325.4" y2="476.0" stroke="#484848" stroke-width="1.1"/>
<text x="325.4" y="485.0" font-size="8.0" text-anchor="middle" fill="#1a1a1a">2022/3/29</text>
<line x1="89.6" y1="472.2" x2="89.6" y2="474.2" stroke="#484848" stroke-width="1.0"/>
<line x1="126.2" y1="472.2" x2="126.2" y2="474.2" stroke="#484848" stroke-width="1.0"/>
<line x1="162.9" y1="472.2" x2="162.9" y2="474.2" stroke="#484848" stroke-width="1.0"/>
<line x1="199.6" y1="472.2" x2="199.6" y2="474.2" stroke="#484848" stroke-width="1.0"/>
<line x1="236.3" y1="472.2" x2="236.3" y2="474.2" stroke="#484848" stroke-width="1.0"/>
<line x1="273.0" y1="472.2" x2="273.0" y2="474.2" stroke="#484848" stroke-width="1.0"/>
<line x1="309.6" y1="472.2" x2="309.6" y2="474.2" stroke="#484848" stroke-width="1.0"/>
<rect x="275.0" y="255.4" width="36.0" height="45.0" fill="#fff" stroke="#888" stroke-width="0.8"/>
<line x1="275.8" y1="261.0" x2="296.2" y2="261.0" stroke="#7a741a" stroke-width="1.8"/>
<line x1="275.8" y1="272.4" x2="296.2" y2="272.4" stroke="#c8c060" stroke-width="1.0"/>
<text x="297.9" y="264.3" font-size="8.5" fill="#1a1a1a" textLength="11.3" lengthAdjust="spacingAndGlyphs">CES</text>
<text x="298.1" y="275.7" font-size="8.5" fill="#1a1a1a" textLength="10.9" lengthAdjust="spacingAndGlyphs">TES</text>
<text x="276.4" y="286.6" font-size="8.5" fill="#1a1a1a" textLength="32.6" lengthAdjust="spacingAndGlyphs">PHE begin</text>
<text x="276.4" y="297.1" font-size="8.5" fill="#1a1a1a" textLength="27.0" lengthAdjust="spacingAndGlyphs">PHE end</text>
<text x="295.4" y="466.0" font-size="10.4" fill="#1a1a1a" textLength="19.8" lengthAdjust="spacingAndGlyphs">Date</text>
<text x="0" y="0" transform="translate(41.2,371.0) rotate(-90)" font-size="10.3" text-anchor="middle" fill="#1a1a1a" textLength="67.0" lengthAdjust="spacingAndGlyphs">CO2 emission (t)</text>
<text x="1.4" y="371.0" font-size="12.5" font-weight="bold" fill="#1a1a1a">(b)</text>
<rect x="534.5" y="255.0" width="73.5" height="215.6" fill="#f2f2f2"/>
<text x="490.5" y="267.0" font-size="10.4" font-weight="bold" font-style="italic" text-anchor="middle" fill="#1a1a1a">Industry</text>
<text x="490.5" y="281.6" font-size="10.4" font-weight="bold" font-style="italic" text-anchor="middle" fill="#1a1a1a">Shaanxi</text>
<polygon points="423.5,305.0 425.3,296.3 428.4,289.3 430.5,292.8 432.3,302.4 434.9,285.8 437.5,278.8 439.6,279.6 441.4,283.1 442.4,327.8 442.4,328.0 441.4,287.5 439.6,284.5 437.5,284.0 434.9,291.0 432.3,305.5 430.5,298.0 428.4,294.5 425.3,302.0 423.5,311.2" fill="#f7f3c4" stroke="none" style="mix-blend-mode:multiply"/>
<polygon points="597.1,416.6 598.7,385.0 600.7,372.3 602.8,367.2 604.3,362.1 605.8,369.3 607.4,360.1 608.9,363.1 610.9,368.8 613.3,352.9 615.5,356.0 617.6,360.1 619.6,357.0 621.7,363.6 623.7,357.0 626.3,351.9 628.3,367.2 630.4,352.9 631.9,344.7 633.7,343.7 635.2,353.4 637.0,343.7 639.0,346.8 641.1,348.8 644.4,360.6 644.4,340.1 641.1,328.4 639.0,326.4 637.0,323.3 635.2,332.5 633.7,322.8 631.9,323.3 630.4,332.5 628.3,346.8 626.3,331.5 623.7,335.5 621.5,343.2 619.8,337.1 618.1,340.7 615.5,335.5 613.3,332.0 611.3,348.8 609.4,343.7 607.9,337.6 606.1,349.9 604.3,342.7 602.3,350.9 600.2,361.1 598.7,371.3 598.2,382.0 597.1,416.6" fill="#f7f3c4" stroke="none" style="mix-blend-mode:multiply"/>
<polyline points="423.5,305.0 425.3,296.3 428.4,289.3 430.5,292.8 432.3,302.4 434.9,285.8 437.5,278.8 439.6,279.6 441.4,283.1 442.4,327.8 443.7,334.8 445.9,340.1 448.0,336.6 450.7,327.8 453.3,324.3 455.9,326.9 457.7,317.3 460.6,320.8 464.7,312.0 466.4,315.5 468.2,319.9 469.9,313.8 471.7,316.4 475.2,298.0 476.9,302.4 479.6,303.3 481.3,305.0 483.9,300.7 486.6,300.7 488.7,303.3 490.6,311.2 492.4,301.5 494.5,298.9 495.9,298.0 498.0,317.3 499.7,324.3 501.1,324.3 503.2,316.4 505.8,316.4 507.6,320.8 509.3,325.2 511.1,318.2 512.9,316.4 514.6,322.6 516.4,324.3 518.1,340.1 520.7,344.5 523.4,348.0 525.1,352.3 527.2,366.4 528.8,372.8 531.4,395.5 534.0,414.8 535.8,421.0 538.4,425.3 540.7,428.0 542.4,435.8 544.5,434.1 548.0,439.3 551.5,442.0 555.0,442.9 558.5,444.3 562.0,446.4 564.7,448.1 566.4,450.7 568.2,448.1 570.8,447.2 572.6,446.0 574.7,449.9 576.9,444.6 578.7,446.7 580.4,445.5 583.9,435.0 587.1,442.0 589.2,430.6 591.8,419.2 593.6,427.1 595.7,430.6 597.1,416.6 598.7,385.0 600.7,372.3 602.8,367.2 604.3,362.1 605.8,369.3 607.4,360.1 608.9,363.1 610.9,368.8 613.3,352.9 615.5,356.0 617.6,360.1 619.6,357.0 621.7,363.6 623.7,357.0 626.3,351.9 628.3,367.2 630.4,352.9 631.9,344.7 633.7,343.7 635.2,353.4 637.0,343.7 639.0,346.8 641.1,348.8 644.4,360.6" fill="none" stroke="#7a741a" stroke-width="2.0" stroke-linejoin="round"/>
<polyline points="423.5,311.2 425.3,302.0 428.4,294.5 430.5,298.0 432.3,305.5 434.9,291.0 437.5,284.0 439.6,284.5 441.4,287.5 442.4,328.0" fill="none" stroke="#c8c060" stroke-width="0.8" stroke-linejoin="round"/>
<polyline points="597.1,416.6 598.2,382.0 598.7,371.3 600.2,361.1 602.3,350.9 604.3,342.7 606.1,349.9 607.9,337.6 609.4,343.7 611.3,348.8 613.3,332.0 615.5,335.5 618.1,340.7 619.8,337.1 621.5,343.2 623.7,335.5 626.3,331.5 628.3,346.8 630.4,332.5 631.9,323.3 633.7,322.8 635.2,332.5 637.0,323.3 639.0,326.4 641.1,328.4 644.4,340.1" fill="none" stroke="#c8c060" stroke-width="0.8" stroke-linejoin="round"/>
<polyline points="441.4,283.1 442.4,327.8 443.7,334.8 445.9,340.1 448.0,336.6 450.7,327.8 453.3,324.3 455.9,326.9 457.7,317.3 460.6,320.8 464.7,312.0 466.4,315.5 468.2,319.9 469.9,313.8 471.7,316.4 475.2,298.0 476.9,302.4 479.6,303.3 481.3,305.0 483.9,300.7 486.6,300.7 488.7,303.3 490.6,311.2 492.4,301.5 494.5,298.9 495.9,298.0 498.0,317.3 499.7,324.3 501.1,324.3 503.2,316.4 505.8,316.4 507.6,320.8 509.3,325.2 511.1,318.2 512.9,316.4 514.6,322.6 516.4,324.3 518.1,340.1 520.7,344.5 523.4,348.0 525.1,352.3 527.2,366.4 528.8,372.8 531.4,395.5 534.0,414.8 535.8,421.0 538.4,425.3 540.7,428.0 542.4,435.8 544.5,434.1 548.0,439.3 551.5,442.0 555.0,442.9 558.5,444.3 562.0,446.4 564.7,448.1 566.4,450.7 568.2,448.1 570.8,447.2 572.6,446.0 574.7,449.9 576.9,444.6 578.7,446.7 580.4,445.5 583.9,435.0 587.1,442.0 589.2,430.6 591.8,419.2 593.6,427.1 595.7,430.6 597.1,416.6 598.7,385.0" fill="none" stroke="#8f891c" stroke-width="2.0" stroke-linejoin="round"/>
<line x1="534.5" y1="255.0" x2="534.5" y2="470.6" stroke="#383838" stroke-width="1.1" stroke-dasharray="4.2,3.32"/>
<line x1="608.0" y1="255.0" x2="608.0" y2="470.6" stroke="#383838" stroke-width="1.1" stroke-dasharray="4.2,3.32"/>
<line x1="404.5" y1="253.6" x2="404.5" y2="471.3" stroke="#3a3a3a" stroke-width="1.25"/>
<line x1="403.8" y1="470.6" x2="672.0" y2="470.6" stroke="#3a3a3a" stroke-width="1.25"/>
<line x1="400.7" y1="459.2" x2="404.5" y2="459.2" stroke="#484848" stroke-width="1.1"/>
<text transform="translate(398.0,461.5) scale(0.89,1)" font-size="8.13" text-anchor="end" fill="#1a1a1a">8</text>
<line x1="400.7" y1="436.3" x2="404.5" y2="436.3" stroke="#484848" stroke-width="1.1"/>
<text transform="translate(398.0,438.6) scale(0.89,1)" font-size="8.13" text-anchor="end" fill="#1a1a1a">9</text>
<line x1="400.7" y1="413.4" x2="404.5" y2="413.4" stroke="#484848" stroke-width="1.1"/>
<text transform="translate(398.0,415.7) scale(0.89,1)" font-size="8.13" text-anchor="end" fill="#1a1a1a">10</text>
<line x1="400.7" y1="390.6" x2="404.5" y2="390.6" stroke="#484848" stroke-width="1.1"/>
<text transform="translate(398.0,392.9) scale(0.89,1)" font-size="8.13" text-anchor="end" fill="#1a1a1a">11</text>
<line x1="400.7" y1="367.7" x2="404.5" y2="367.7" stroke="#484848" stroke-width="1.1"/>
<text transform="translate(398.0,370.0) scale(0.89,1)" font-size="8.13" text-anchor="end" fill="#1a1a1a">12</text>
<line x1="400.7" y1="344.8" x2="404.5" y2="344.8" stroke="#484848" stroke-width="1.1"/>
<text transform="translate(398.0,347.1) scale(0.89,1)" font-size="8.13" text-anchor="end" fill="#1a1a1a">13</text>
<line x1="400.7" y1="321.9" x2="404.5" y2="321.9" stroke="#484848" stroke-width="1.1"/>
<text transform="translate(398.0,324.2) scale(0.89,1)" font-size="8.13" text-anchor="end" fill="#1a1a1a">14</text>
<line x1="400.7" y1="299.1" x2="404.5" y2="299.1" stroke="#484848" stroke-width="1.1"/>
<text transform="translate(398.0,301.4) scale(0.89,1)" font-size="8.13" text-anchor="end" fill="#1a1a1a">15</text>
<line x1="400.7" y1="276.2" x2="404.5" y2="276.2" stroke="#484848" stroke-width="1.1"/>
<text transform="translate(398.0,278.5) scale(0.89,1)" font-size="8.13" text-anchor="end" fill="#1a1a1a">16</text>
<line x1="400.7" y1="253.3" x2="404.5" y2="253.3" stroke="#484848" stroke-width="1.1"/>
<text transform="translate(398.0,255.6) scale(0.89,1)" font-size="8.13" text-anchor="end" fill="#1a1a1a">17</text>
<line x1="402.5" y1="447.7" x2="404.5" y2="447.7" stroke="#484848" stroke-width="1.0"/>
<line x1="402.5" y1="424.9" x2="404.5" y2="424.9" stroke="#484848" stroke-width="1.0"/>
<line x1="402.5" y1="402.0" x2="404.5" y2="402.0" stroke="#484848" stroke-width="1.0"/>
<line x1="402.5" y1="379.1" x2="404.5" y2="379.1" stroke="#484848" stroke-width="1.0"/>
<line x1="402.5" y1="356.2" x2="404.5" y2="356.2" stroke="#484848" stroke-width="1.0"/>
<line x1="402.5" y1="333.4" x2="404.5" y2="333.4" stroke="#484848" stroke-width="1.0"/>
<line x1="402.5" y1="310.5" x2="404.5" y2="310.5" stroke="#484848" stroke-width="1.0"/>
<line x1="402.5" y1="287.6" x2="404.5" y2="287.6" stroke="#484848" stroke-width="1.0"/>
<line x1="402.5" y1="264.8" x2="404.5" y2="264.8" stroke="#484848" stroke-width="1.0"/>
<line x1="404.4" y1="470.6" x2="404.4" y2="474.4" stroke="#484848" stroke-width="1.1"/>
<text x="404.4" y="483.6" font-size="7.9" text-anchor="middle" fill="#1a1a1a">2019/11/9</text>
<line x1="456.1" y1="470.6" x2="456.1" y2="474.4" stroke="#484848" stroke-width="1.1"/>
<text x="456.1" y="483.6" font-size="7.9" text-anchor="middle" fill="#1a1a1a">2019/12/9</text>
<line x1="509.6" y1="470.6" x2="509.6" y2="474.4" stroke="#484848" stroke-width="1.1"/>
<text x="509.6" y="483.6" font-size="7.9" text-anchor="middle" fill="#1a1a1a">2020/1/9</text>
<line x1="563.0" y1="470.6" x2="563.0" y2="474.4" stroke="#484848" stroke-width="1.1"/>
<text x="563.0" y="483.6" font-size="7.9" text-anchor="middle" fill="#1a1a1a">2020/2/9</text>
<line x1="613.0" y1="470.6" x2="613.0" y2="474.4" stroke="#484848" stroke-width="1.1"/>
<text x="613.0" y="483.6" font-size="7.9" text-anchor="middle" fill="#1a1a1a">2020/3/9</text>
<line x1="666.4" y1="470.6" x2="666.4" y2="474.4" stroke="#484848" stroke-width="1.1"/>
<text x="666.4" y="483.6" font-size="7.9" text-anchor="middle" fill="#1a1a1a">2020/4/9</text>
<line x1="428.5" y1="470.6" x2="428.5" y2="472.6" stroke="#484848" stroke-width="1.0"/>
<line x1="480.3" y1="470.6" x2="480.3" y2="472.6" stroke="#484848" stroke-width="1.0"/>
<line x1="533.7" y1="470.6" x2="533.7" y2="472.6" stroke="#484848" stroke-width="1.0"/>
<line x1="587.1" y1="470.6" x2="587.1" y2="472.6" stroke="#484848" stroke-width="1.0"/>
<line x1="637.1" y1="470.6" x2="637.1" y2="472.6" stroke="#484848" stroke-width="1.0"/>
<rect x="617.6" y="255.4" width="36.4" height="45.0" fill="#fff" stroke="#888" stroke-width="0.8"/>
<line x1="618.4" y1="261.4" x2="639.1" y2="261.4" stroke="#7a741a" stroke-width="1.8"/>
<line x1="618.4" y1="272.4" x2="639.1" y2="272.4" stroke="#c8c060" stroke-width="1.0"/>
<text x="640.7" y="264.7" font-size="8.5" fill="#1a1a1a" textLength="11.4" lengthAdjust="spacingAndGlyphs">CES</text>
<text x="640.9" y="275.7" font-size="8.5" fill="#1a1a1a" textLength="11.0" lengthAdjust="spacingAndGlyphs">TES</text>
<text x="619.1" y="286.6" font-size="8.5" fill="#1a1a1a" textLength="32.9" lengthAdjust="spacingAndGlyphs">PHE begin</text>
<text x="619.1" y="297.1" font-size="8.5" fill="#1a1a1a" textLength="27.3" lengthAdjust="spacingAndGlyphs">PHE end</text>
<text x="649.4" y="463.4" font-size="10.4" fill="#1a1a1a" textLength="19.8" lengthAdjust="spacingAndGlyphs">Date</text>
<text x="0" y="0" transform="translate(383.2,364.8) rotate(-90)" font-size="10.3" text-anchor="middle" fill="#1a1a1a" textLength="68.2" lengthAdjust="spacingAndGlyphs">CO2 emission (t)</text>
<rect x="202.5" y="501.4" width="81.0" height="219.8" fill="#f2f2f2"/>
<text x="116.5" y="521.0" font-size="10.4" font-weight="bold" font-style="italic" text-anchor="middle" fill="#1a1a1a">Power</text>
<text x="116.5" y="535.6" font-size="10.4" font-weight="bold" font-style="italic" text-anchor="middle" fill="#1a1a1a">Dalian</text>
<polygon points="223.3,552.8 225.0,570.3 226.8,570.3 229.9,540.5 232.0,547.5 234.7,549.3 237.3,554.5 240.8,557.2 243.4,552.8 246.1,543.1 248.3,549.3 250.4,544.0 252.2,549.3 254.3,547.5 256.2,559.8 258.3,555.4 261.0,558.0 262.7,565.0 265.3,581.7 267.6,579.9 269.7,581.7 272.0,577.3 274.1,568.5 276.7,582.6 278.5,592.2 281.1,590.4 283.7,594.8 286.0,572.9 288.5,573.8 290.7,584.3 292.6,605.5 294.3,610.4 296.3,611.0 298.5,616.5 300.4,605.5 302.6,609.3 304.4,603.8 306.4,623.1 309.2,632.0 312.0,638.6 314.5,630.9 316.9,643.5 318.6,643.0 321.0,657.4 320.9,704.5 318.6,692.5 316.8,692.7 314.7,681.5 312.2,688.6 309.1,683.5 306.1,675.3 304.5,660.0 302.5,662.6 300.4,661.0 298.4,669.2 296.3,664.6 294.3,664.1 292.3,660.0 290.7,643.9 288.1,631.6 285.5,624.6 283.2,617.6 281.1,615.0 278.5,615.8 276.7,608.0 274.4,594.8 272.3,599.2 270.2,606.2 268.0,603.6 265.7,607.1 263.6,594.8 261.8,584.3 259.2,581.7 256.6,585.2 254.8,574.7 252.7,575.5 250.4,571.2 248.3,574.7 246.1,570.3 243.4,579.1 240.8,582.6 237.3,579.9 234.7,575.5 232.0,572.0 229.9,567.7 225.9,595.7 224.2,594.8 223.3,552.8" fill="#e1f5c8" stroke="none" style="mix-blend-mode:multiply"/>
<polyline points="86.6,672.3 88.8,661.7 90.8,655.3 92.0,665.3 93.1,676.6 94.6,679.2 97.2,681.0 98.6,689.4 99.3,686.5 104.5,660.0 107.2,648.6 108.9,631.1 111.5,626.7 113.3,628.5 115.0,635.5 117.1,624.1 119.4,617.1 121.2,613.6 122.9,616.2 125.2,613.6 127.0,617.1 129.1,611.8 131.7,614.5 134.3,617.1 136.1,620.6 137.8,627.6 139.6,639.9 141.3,635.5 143.1,640.7 145.3,636.4 147.1,644.2 149.2,646.0 151.3,652.1 153.6,629.3 155.3,625.0 157.1,630.2 159.2,617.1 161.5,557.5 163.2,564.5 165.0,568.0 167.6,585.5 169.3,590.8 171.6,578.5 173.7,554.0 175.5,556.6 177.2,554.0 179.0,561.0 181.3,564.5 183.4,575.9 185.1,572.4 187.2,557.5 188.6,553.1 190.4,557.5 192.6,565.0 195.3,582.6 197.9,576.4 199.6,587.8 202.3,570.3 204.9,563.3 209.3,563.3 211.9,579.1 215.9,561.5 218.0,540.5 220.7,535.3 221.5,531.0 223.3,552.8 225.0,570.3 226.8,570.3 229.9,540.5 232.0,547.5 234.7,549.3 237.3,554.5 240.8,557.2 243.4,552.8 246.1,543.1 248.3,549.3 250.4,544.0 252.2,549.3 254.3,547.5 256.2,559.8 258.3,555.4 261.0,558.0 262.7,565.0 265.3,581.7 267.6,579.9 269.7,581.7 272.0,577.3 274.1,568.5 276.7,582.6 278.5,592.2 281.1,590.4 283.7,594.8 286.0,572.9 288.5,573.8 290.7,584.3 292.6,605.5 294.3,610.4 296.3,611.0 298.5,616.5 300.4,605.5 302.6,609.3 304.4,603.8 306.4,623.1 309.2,632.0 312.0,638.6 314.5,630.9 316.9,643.5 318.6,643.0 321.0,657.4" fill="none" stroke="#4a7a1c" stroke-width="2.1" stroke-linejoin="round"/>
<polyline points="86.9,679.2 90.6,663.1 92.8,682.8 95.3,686.5 97.2,688.0 98.8,696.4 100.4,682.8 104.5,659.4 107.2,648.0 108.9,630.5 111.5,626.1 113.3,627.9 115.0,634.9 117.1,623.5 119.4,616.5 121.2,613.0 122.9,615.6 125.2,613.0 127.0,616.5 129.1,611.2 131.7,613.9 134.3,616.5 136.1,620.0 137.8,627.0 139.6,639.3 141.3,634.9 143.1,640.1 145.3,635.8 147.1,643.6 149.2,645.4 151.3,650.8 153.6,628.0 155.3,623.7 157.1,628.9 159.2,615.8 161.5,556.2 163.2,563.2 165.0,566.7 167.6,584.2 169.3,589.5 171.6,577.2 173.7,552.7 175.5,555.3 177.2,552.7 179.0,559.7 181.3,563.2 183.4,574.6 185.1,571.1 187.2,556.2 188.6,551.8 190.4,556.2 192.6,563.7 195.3,581.3 197.9,575.1 199.6,586.5 202.3,569.0 204.9,562.0 209.3,562.0 211.9,577.8 215.9,560.2 218.0,539.2 220.7,534.0 221.5,529.7 223.3,552.8 224.2,594.8 225.9,595.7 229.9,567.7 232.0,572.0 234.7,575.5 237.3,579.9 240.8,582.6 243.4,579.1 246.1,570.3 248.3,574.7 250.4,571.2 252.7,575.5 254.8,574.7 256.6,585.2 259.2,581.7 261.8,584.3 263.6,594.8 265.7,607.1 268.0,603.6 270.2,606.2 272.3,599.2 274.4,594.8 276.7,608.0 278.5,615.8 281.1,615.0 283.2,617.6 285.5,624.6 288.1,631.6 290.7,643.9 292.3,660.0 294.3,664.1 296.3,664.6 298.4,669.2 300.4,661.0 302.5,662.6 304.5,660.0 306.1,675.3 309.1,683.5 312.2,688.6 314.7,681.5 316.8,692.7 318.6,692.5 320.9,704.5" fill="none" stroke="#98cc50" stroke-width="0.8" stroke-linejoin="round"/>
<line x1="202.5" y1="501.4" x2="202.5" y2="721.2" stroke="#383838" stroke-width="1.1" stroke-dasharray="4.2,3.32"/>
<line x1="283.5" y1="501.4" x2="283.5" y2="721.2" stroke="#383838" stroke-width="1.1" stroke-dasharray="4.2,3.32"/>
<line x1="67.5" y1="504.4" x2="67.5" y2="721.9" stroke="#3a3a3a" stroke-width="1.25"/>
<line x1="66.8" y1="721.2" x2="343.0" y2="721.2" stroke="#3a3a3a" stroke-width="1.25"/>
<line x1="63.7" y1="706.0" x2="67.5" y2="706.0" stroke="#484848" stroke-width="1.1"/>
<text transform="translate(61.0,708.9) scale(0.92,1)" font-size="8.77" text-anchor="end" fill="#1a1a1a">5.5</text>
<line x1="63.7" y1="677.2" x2="67.5" y2="677.2" stroke="#484848" stroke-width="1.1"/>
<text transform="translate(61.0,680.1) scale(0.92,1)" font-size="8.77" text-anchor="end" fill="#1a1a1a">6.0</text>
<line x1="63.7" y1="648.4" x2="67.5" y2="648.4" stroke="#484848" stroke-width="1.1"/>
<text transform="translate(61.0,651.3) scale(0.92,1)" font-size="8.77" text-anchor="end" fill="#1a1a1a">6.5</text>
<line x1="63.7" y1="619.6" x2="67.5" y2="619.6" stroke="#484848" stroke-width="1.1"/>
<text transform="translate(61.0,622.5) scale(0.92,1)" font-size="8.77" text-anchor="end" fill="#1a1a1a">7.0</text>
<line x1="63.7" y1="590.8" x2="67.5" y2="590.8" stroke="#484848" stroke-width="1.1"/>
<text transform="translate(61.0,593.7) scale(0.92,1)" font-size="8.77" text-anchor="end" fill="#1a1a1a">7.5</text>
<line x1="63.7" y1="562.0" x2="67.5" y2="562.0" stroke="#484848" stroke-width="1.1"/>
<text transform="translate(61.0,564.9) scale(0.92,1)" font-size="8.77" text-anchor="end" fill="#1a1a1a">8.0</text>
<line x1="63.7" y1="533.2" x2="67.5" y2="533.2" stroke="#484848" stroke-width="1.1"/>
<text transform="translate(61.0,536.1) scale(0.92,1)" font-size="8.77" text-anchor="end" fill="#1a1a1a">8.5</text>
<line x1="63.7" y1="504.4" x2="67.5" y2="504.4" stroke="#484848" stroke-width="1.1"/>
<text transform="translate(61.0,507.3) scale(0.92,1)" font-size="8.77" text-anchor="end" fill="#1a1a1a">9.0</text>
<line x1="65.5" y1="691.6" x2="67.5" y2="691.6" stroke="#484848" stroke-width="1.0"/>
<line x1="65.5" y1="662.8" x2="67.5" y2="662.8" stroke="#484848" stroke-width="1.0"/>
<line x1="65.5" y1="634.0" x2="67.5" y2="634.0" stroke="#484848" stroke-width="1.0"/>
<line x1="65.5" y1="605.2" x2="67.5" y2="605.2" stroke="#484848" stroke-width="1.0"/>
<line x1="65.5" y1="576.4" x2="67.5" y2="576.4" stroke="#484848" stroke-width="1.0"/>
<line x1="65.5" y1="547.6" x2="67.5" y2="547.6" stroke="#484848" stroke-width="1.0"/>
<line x1="65.5" y1="518.8" x2="67.5" y2="518.8" stroke="#484848" stroke-width="1.0"/>
<line x1="67.6" y1="721.2" x2="67.6" y2="725.0" stroke="#484848" stroke-width="1.1"/>
<text x="67.6" y="735.0" font-size="8.4" text-anchor="middle" fill="#1a1a1a">2020/5/15</text>
<line x1="110.0" y1="721.2" x2="110.0" y2="725.0" stroke="#484848" stroke-width="1.1"/>
<text x="110.0" y="735.0" font-size="8.4" text-anchor="middle" fill="#1a1a1a">2020/6/5</text>
<line x1="152.3" y1="721.2" x2="152.3" y2="725.0" stroke="#484848" stroke-width="1.1"/>
<text x="152.3" y="735.0" font-size="8.4" text-anchor="middle" fill="#1a1a1a">2020/6/26</text>
<line x1="194.7" y1="721.2" x2="194.7" y2="725.0" stroke="#484848" stroke-width="1.1"/>
<text x="194.7" y="735.0" font-size="8.4" text-anchor="middle" fill="#1a1a1a">2020/7/17</text>
<line x1="237.0" y1="721.2" x2="237.0" y2="725.0" stroke="#484848" stroke-width="1.1"/>
<text x="237.0" y="735.0" font-size="8.4" text-anchor="middle" fill="#1a1a1a">2020/8/7</text>
<line x1="279.4" y1="721.2" x2="279.4" y2="725.0" stroke="#484848" stroke-width="1.1"/>
<text x="279.4" y="735.0" font-size="8.4" text-anchor="middle" fill="#1a1a1a">2020/8/28</text>
<line x1="321.7" y1="721.2" x2="321.7" y2="725.0" stroke="#484848" stroke-width="1.1"/>
<text x="321.7" y="735.0" font-size="8.4" text-anchor="middle" fill="#1a1a1a">2020/9/18</text>
<line x1="95.8" y1="721.2" x2="95.8" y2="723.2" stroke="#484848" stroke-width="1.0"/>
<line x1="138.2" y1="721.2" x2="138.2" y2="723.2" stroke="#484848" stroke-width="1.0"/>
<line x1="180.6" y1="721.2" x2="180.6" y2="723.2" stroke="#484848" stroke-width="1.0"/>
<line x1="222.9" y1="721.2" x2="222.9" y2="723.2" stroke="#484848" stroke-width="1.0"/>
<line x1="265.3" y1="721.2" x2="265.3" y2="723.2" stroke="#484848" stroke-width="1.0"/>
<line x1="307.6" y1="721.2" x2="307.6" y2="723.2" stroke="#484848" stroke-width="1.0"/>
<rect x="293.2" y="502.4" width="39.4" height="48.6" fill="#fff" stroke="#888" stroke-width="0.8"/>
<line x1="294.0" y1="509.0" x2="316.4" y2="509.0" stroke="#4a7a1c" stroke-width="1.8"/>
<line x1="294.0" y1="520.6" x2="316.4" y2="520.6" stroke="#98cc50" stroke-width="1.0"/>
<text x="318.2" y="512.3" font-size="8.5" fill="#1a1a1a" textLength="12.4" lengthAdjust="spacingAndGlyphs">CES</text>
<text x="318.4" y="523.9" font-size="8.5" fill="#1a1a1a" textLength="11.9" lengthAdjust="spacingAndGlyphs">TES</text>
<text x="294.8" y="536.0" font-size="8.5" fill="#1a1a1a" textLength="35.6" lengthAdjust="spacingAndGlyphs">PHE begin</text>
<text x="294.8" y="547.3" font-size="8.5" fill="#1a1a1a" textLength="29.5" lengthAdjust="spacingAndGlyphs">PHE end</text>
<text x="317.4" y="714.6" font-size="10.4" fill="#1a1a1a" textLength="19.8" lengthAdjust="spacingAndGlyphs">Date</text>
<text x="0" y="0" transform="translate(41.4,618.0) rotate(-90)" font-size="10.3" text-anchor="middle" fill="#1a1a1a" textLength="73.8" lengthAdjust="spacingAndGlyphs">CO2 emission (t)</text>
<text x="2.2" y="622.0" font-size="12.5" font-weight="bold" fill="#1a1a1a">(c)</text>
<rect x="542.1" y="499.6" width="71.9" height="221.9" fill="#f2f2f2"/>
<text x="490.5" y="521.0" font-size="10.4" font-weight="bold" font-style="italic" text-anchor="middle" fill="#1a1a1a">Industry</text>
<text x="490.5" y="535.4" font-size="10.4" font-weight="bold" font-style="italic" text-anchor="middle" fill="#1a1a1a">Gansu<tspan font-size="6.5" dy="-3.5">1</tspan></text>
<polygon points="572.4,611.3 574.7,616.9 577.7,613.4 581.2,615.2 584.7,616.9 588.7,618.7 592.2,621.3 596.1,620.4 599.6,616.9 603.1,614.7 606.2,613.4 609.2,610.8 611.8,610.5 615.3,611.7 618.0,608.2 621.5,602.9 624.1,603.8 626.7,608.2 629.3,604.7 632.0,602.0 634.6,594.2 637.2,594.2 639.5,596.8 642.0,603.8 644.8,602.0 646.9,601.2 649.5,631.8 649.4,694.0 648.6,680.0 646.0,667.0 642.0,669.0 639.0,664.0 636.0,662.6 634.0,663.6 632.0,667.0 629.0,669.6 626.0,672.0 623.0,669.6 620.0,672.0 616.4,675.0 612.0,674.0 609.0,674.4 606.0,676.0 602.0,678.0 597.0,681.0 592.0,682.0 589.0,681.0 584.0,679.0 577.0,677.0 574.2,678.0 573.6,670.0 572.4,611.3" fill="#e1f5c8" stroke="none" style="mix-blend-mode:multiply"/>
<polyline points="435.6,526.6 437.9,534.5 440.5,541.5 443.1,542.4 446.1,532.8 448.0,532.8 450.1,540.7 452.8,557.3 455.8,541.5 457.7,545.0 460.1,541.5 462.8,545.0 465.0,543.3 467.7,542.4 469.9,545.9 472.9,571.3 475.9,566.1 478.2,559.1 480.8,549.4 483.1,552.9 485.7,558.2 488.7,556.4 491.3,557.3 493.4,555.5 495.7,560.8 497.4,620.4 500.1,624.8 503.6,629.1 508.0,622.1 512.3,617.7 516.7,624.8 521.1,629.1 526.4,629.1 531.6,623.0 536.0,627.4 540.4,629.1 542.6,628.3 544.4,620.4 547.0,616.1 549.6,618.7 552.3,620.4 554.9,620.4 557.5,622.2 560.1,619.6 562.4,615.2 564.5,612.2 568.0,612.6 570.7,611.7 572.4,611.3 574.7,616.9 577.7,613.4 581.2,615.2 584.7,616.9 588.7,618.7 592.2,621.3 596.1,620.4 599.6,616.9 603.1,614.7 606.2,613.4 609.2,610.8 611.8,610.5 615.3,611.7 618.0,608.2 621.5,602.9 624.1,603.8 626.7,608.2 629.3,604.7 632.0,602.0 634.6,594.2 637.2,594.2 639.5,596.8 642.0,603.8 644.8,602.0 646.9,601.2 649.5,631.8" fill="none" stroke="#4a7a1c" stroke-width="2.1" stroke-linejoin="round"/>
<polyline points="435.6,525.8 437.9,533.7 440.5,540.7 443.1,541.6 446.1,532.0 448.0,532.0 450.1,539.9 452.8,556.5 455.8,540.7 457.7,544.2 460.1,540.7 462.8,544.2 465.0,542.5 467.7,541.6 469.9,545.1 472.9,570.5 475.9,565.3 478.2,558.3 480.8,548.6 483.1,552.1 485.7,557.4 488.7,555.6 491.3,556.5 493.4,554.7 495.7,560.0 497.4,619.8 500.1,624.2 503.6,628.5 508.0,621.5 512.3,617.1 516.7,624.2 521.1,628.5 526.4,628.5 531.6,622.4 536.0,626.8 540.4,628.5 542.6,627.7 544.4,619.8 547.0,615.5 549.6,618.1 552.3,619.8 554.9,619.8 557.5,621.6 560.1,619.0 562.4,614.6 564.5,611.6 568.0,612.0 570.7,611.1 572.4,611.3 573.6,670.0 574.2,678.0 577.0,677.0 584.0,679.0 589.0,681.0 592.0,682.0 597.0,681.0 602.0,678.0 606.0,676.0 609.0,674.4 612.0,674.0 616.4,675.0 620.0,672.0 623.0,669.6 626.0,672.0 629.0,669.6 632.0,667.0 634.0,663.6 636.0,662.6 639.0,664.0 642.0,669.0 646.0,667.0 648.6,680.0 649.4,694.0" fill="none" stroke="#98cc50" stroke-width="0.8" stroke-linejoin="round"/>
<line x1="542.1" y1="499.6" x2="542.1" y2="721.5" stroke="#383838" stroke-width="1.1" stroke-dasharray="4.2,3.32"/>
<line x1="614.0" y1="499.6" x2="614.0" y2="721.5" stroke="#383838" stroke-width="1.1" stroke-dasharray="4.2,3.32"/>
<line x1="403.5" y1="497.9" x2="403.5" y2="722.2" stroke="#3a3a3a" stroke-width="1.25"/>
<line x1="402.8" y1="721.5" x2="681.0" y2="721.5" stroke="#3a3a3a" stroke-width="1.25"/>
<line x1="399.7" y1="721.5" x2="403.5" y2="721.5" stroke="#484848" stroke-width="1.1"/>
<text transform="translate(397.0,722.4) scale(0.92,1)" font-size="8.13" text-anchor="end" fill="#1a1a1a">6</text>
<line x1="399.7" y1="680.9" x2="403.5" y2="680.9" stroke="#484848" stroke-width="1.1"/>
<text transform="translate(397.0,681.8) scale(0.92,1)" font-size="8.13" text-anchor="end" fill="#1a1a1a">8</text>
<line x1="399.7" y1="640.3" x2="403.5" y2="640.3" stroke="#484848" stroke-width="1.1"/>
<text transform="translate(397.0,641.2) scale(0.92,1)" font-size="8.13" text-anchor="end" fill="#1a1a1a">10</text>
<line x1="399.7" y1="599.7" x2="403.5" y2="599.7" stroke="#484848" stroke-width="1.1"/>
<text transform="translate(397.0,600.6) scale(0.92,1)" font-size="8.13" text-anchor="end" fill="#1a1a1a">12</text>
<line x1="399.7" y1="559.1" x2="403.5" y2="559.1" stroke="#484848" stroke-width="1.1"/>
<text transform="translate(397.0,560.0) scale(0.92,1)" font-size="8.13" text-anchor="end" fill="#1a1a1a">14</text>
<line x1="399.7" y1="518.5" x2="403.5" y2="518.5" stroke="#484848" stroke-width="1.1"/>
<text transform="translate(397.0,519.4) scale(0.92,1)" font-size="8.13" text-anchor="end" fill="#1a1a1a">16</text>
<line x1="401.5" y1="701.2" x2="403.5" y2="701.2" stroke="#484848" stroke-width="1.0"/>
<line x1="401.5" y1="660.6" x2="403.5" y2="660.6" stroke="#484848" stroke-width="1.0"/>
<line x1="401.5" y1="620.0" x2="403.5" y2="620.0" stroke="#484848" stroke-width="1.0"/>
<line x1="401.5" y1="579.4" x2="403.5" y2="579.4" stroke="#484848" stroke-width="1.0"/>
<line x1="401.5" y1="538.8" x2="403.5" y2="538.8" stroke="#484848" stroke-width="1.0"/>
<line x1="401.5" y1="498.2" x2="403.5" y2="498.2" stroke="#484848" stroke-width="1.0"/>
<line x1="403.4" y1="721.5" x2="403.4" y2="725.3" stroke="#484848" stroke-width="1.1"/>
<text x="403.4" y="735.0" font-size="8.5" text-anchor="middle" fill="#1a1a1a">2021/8/24</text>
<line x1="455.4" y1="721.5" x2="455.4" y2="725.3" stroke="#484848" stroke-width="1.1"/>
<text x="455.4" y="735.0" font-size="8.5" text-anchor="middle" fill="#1a1a1a">2021/9/14</text>
<line x1="507.4" y1="721.5" x2="507.4" y2="725.3" stroke="#484848" stroke-width="1.1"/>
<text x="507.4" y="735.0" font-size="8.5" text-anchor="middle" fill="#1a1a1a">2021/10/5</text>
<line x1="559.4" y1="721.5" x2="559.4" y2="725.3" stroke="#484848" stroke-width="1.1"/>
<text x="559.4" y="735.0" font-size="8.5" text-anchor="middle" fill="#1a1a1a">2021/10/26</text>
<line x1="611.4" y1="721.5" x2="611.4" y2="725.3" stroke="#484848" stroke-width="1.1"/>
<text x="611.4" y="735.0" font-size="8.5" text-anchor="middle" fill="#1a1a1a">2021/11/16</text>
<line x1="663.4" y1="721.5" x2="663.4" y2="725.3" stroke="#484848" stroke-width="1.1"/>
<text x="663.4" y="735.0" font-size="8.5" text-anchor="middle" fill="#1a1a1a">2021/12/7</text>
<line x1="438.1" y1="721.5" x2="438.1" y2="723.5" stroke="#484848" stroke-width="1.0"/>
<line x1="490.1" y1="721.5" x2="490.1" y2="723.5" stroke="#484848" stroke-width="1.0"/>
<line x1="542.1" y1="721.5" x2="542.1" y2="723.5" stroke="#484848" stroke-width="1.0"/>
<line x1="594.1" y1="721.5" x2="594.1" y2="723.5" stroke="#484848" stroke-width="1.0"/>
<line x1="646.0" y1="721.5" x2="646.0" y2="723.5" stroke="#484848" stroke-width="1.0"/>
<rect x="629.4" y="501.4" width="39.6" height="48.6" fill="#fff" stroke="#888" stroke-width="0.8"/>
<line x1="630.2" y1="508.0" x2="652.7" y2="508.0" stroke="#4a7a1c" stroke-width="1.8"/>
<line x1="630.2" y1="520.0" x2="652.7" y2="520.0" stroke="#98cc50" stroke-width="1.0"/>
<text x="654.6" y="511.3" font-size="8.5" fill="#1a1a1a" textLength="12.4" lengthAdjust="spacingAndGlyphs">CES</text>
<text x="654.8" y="523.3" font-size="8.5" fill="#1a1a1a" textLength="11.9" lengthAdjust="spacingAndGlyphs">TES</text>
<text x="631.0" y="535.0" font-size="8.5" fill="#1a1a1a" textLength="35.8" lengthAdjust="spacingAndGlyphs">PHE begin</text>
<text x="631.0" y="546.7" font-size="8.5" fill="#1a1a1a" textLength="29.7" lengthAdjust="spacingAndGlyphs">PHE end</text>
<text x="631.4" y="720.0" font-size="10.4" fill="#1a1a1a" textLength="19.8" lengthAdjust="spacingAndGlyphs">Date</text>
<text x="0" y="0" transform="translate(382.2,605.1) rotate(-90)" font-size="10.3" text-anchor="middle" fill="#1a1a1a" textLength="74.4" lengthAdjust="spacingAndGlyphs">CO2 emission (t)</text>
<rect x="194.1" y="760.0" width="64.4" height="222.5" fill="#f2f2f2"/>
<text x="116.5" y="775.6" font-size="10.4" font-weight="bold" font-style="italic" text-anchor="middle" fill="#1a1a1a">Power</text>
<text x="116.5" y="790.0" font-size="10.4" font-weight="bold" font-style="italic" text-anchor="middle" fill="#1a1a1a">Jinan</text>
<polygon points="198.5,858.2 200.2,880.9 200.9,895.5 203.1,901.3 206.1,908.6 208.7,923.2 210.7,918.8 213.1,906.4 215.1,915.9 217.4,922.5 219.2,919.6 221.4,920.3 223.6,913.0 225.3,910.1 227.7,907.4 229.7,914.5 232.0,922.5 234.5,919.6 236.7,915.2 238.9,917.4 241.1,927.6 243.3,936.4 245.5,939.3 247.7,934.9 249.9,926.9 252.0,929.1 254.2,931.2 256.8,922.3 258.6,921.1 260.4,928.3 262.5,960.8 264.6,959.6 266.8,953.6 268.9,958.4 271.9,951.2 274.9,944.0 277.9,936.1 279.7,933.1 281.5,933.1 283.7,928.9 285.7,930.7 288.1,938.0 291.1,945.2 293.8,952.4 293.8,884.9 291.1,874.7 288.1,867.5 285.7,858.4 283.7,855.4 281.5,862.0 279.7,862.0 277.9,865.1 274.9,875.3 271.9,883.7 268.9,892.2 267.0,887.3 265.2,894.0 262.8,896.4 260.4,905.4 258.6,897.6 256.8,899.4 254.2,908.6 252.0,906.4 250.1,904.2 248.4,910.1 246.2,918.8 243.3,915.2 241.1,910.1 238.9,894.7 236.7,891.1 234.5,894.0 232.0,898.4 229.7,891.1 227.7,883.5 225.3,886.0 223.6,889.6 221.4,896.2 219.2,895.5 217.4,898.4 215.1,891.1 213.1,882.3 210.7,894.7 208.7,899.1 206.1,885.3 203.1,878.0 200.9,872.1 198.5,858.2" fill="#ffcccc" stroke="none" style="mix-blend-mode:multiply"/>
<polyline points="94.6,848.0 96.9,849.2 101.1,837.4 103.9,840.1 106.4,838.3 109.5,832.2 112.2,819.1 114.4,808.5 116.2,805.0 117.9,807.7 120.0,798.0 122.3,789.3 123.9,785.8 125.6,788.4 127.9,802.4 130.2,813.8 132.3,832.2 134.1,829.6 136.2,847.1 138.1,846.6 140.2,850.2 142.8,852.3 144.9,855.8 148.1,854.1 150.7,849.7 152.8,848.0 154.7,853.2 156.8,852.3 158.9,854.1 161.2,847.6 163.8,849.7 165.9,850.6 167.7,855.5 170.0,848.8 171.7,843.6 173.5,838.0 175.6,845.0 177.9,838.3 180.0,835.7 182.2,848.0 184.5,860.2 186.3,863.7 188.4,863.7 190.1,874.8 192.7,873.4 194.5,872.5 196.2,862.9 198.5,858.2 200.2,880.9 200.9,895.5 203.1,901.3 206.1,908.6 208.7,923.2 210.7,918.8 213.1,906.4 215.1,915.9 217.4,922.5 219.2,919.6 221.4,920.3 223.6,913.0 225.3,910.1 227.7,907.4 229.7,914.5 232.0,922.5 234.5,919.6 236.7,915.2 238.9,917.4 241.1,927.6 243.3,936.4 245.5,939.3 247.7,934.9 249.9,926.9 252.0,929.1 254.2,931.2 256.8,922.3 258.6,921.1 260.4,928.3 262.5,960.8 264.6,959.6 266.8,953.6 268.9,958.4 271.9,951.2 274.9,944.0 277.9,936.1 279.7,933.1 281.5,933.1 283.7,928.9 285.7,930.7 288.1,938.0 291.1,945.2 293.8,952.4" fill="none" stroke="#8c1a1a" stroke-width="1.9" stroke-linejoin="round"/>
<polyline points="198.5,858.2 200.9,872.1 203.1,878.0 206.1,885.3 208.7,899.1 210.7,894.7 213.1,882.3 215.1,891.1 217.4,898.4 219.2,895.5 221.4,896.2 223.6,889.6 225.3,886.0 227.7,883.5 229.7,891.1 232.0,898.4 234.5,894.0 236.7,891.1 238.9,894.7 241.1,910.1 243.3,915.2 246.2,918.8 248.4,910.1 250.1,904.2 252.0,906.4 254.2,908.6 256.8,899.4 258.6,897.6 260.4,905.4 262.8,896.4 265.2,894.0 267.0,887.3 268.9,892.2 271.9,883.7 274.9,875.3 277.9,865.1 279.7,862.0 281.5,862.0 283.7,855.4 285.7,858.4 288.1,867.5 291.1,874.7 293.8,884.9" fill="none" stroke="#d63a3a" stroke-width="0.9" stroke-linejoin="round"/>
<polyline points="94.6,848.0 96.9,849.2 101.1,837.4 103.9,840.1 106.4,838.3 109.5,832.2 112.2,819.1 114.4,808.5 116.2,805.0 117.9,807.7 120.0,798.0 122.3,789.3 123.9,785.8 125.6,788.4 127.9,802.4 130.2,813.8 132.3,832.2 134.1,829.6 136.2,847.1 138.1,846.6 140.2,850.2 142.8,852.3 144.9,855.8 148.1,854.1 150.7,849.7 152.8,848.0 154.7,853.2 156.8,852.3 158.9,854.1 161.2,847.6 163.8,849.7 165.9,850.6 167.7,855.5 170.0,848.8 171.7,843.6 173.5,838.0 175.6,845.0 177.9,838.3 180.0,835.7 182.2,848.0 184.5,860.2 186.3,863.7 188.4,863.7 190.1,874.8 192.7,873.4 194.5,872.5 196.2,862.9 198.5,858.2" fill="none" stroke="#b41c1c" stroke-width="1.45" stroke-linejoin="round"/>
<line x1="194.1" y1="760.0" x2="194.1" y2="982.5" stroke="#383838" stroke-width="1.1" stroke-dasharray="4.2,3.32"/>
<line x1="258.5" y1="760.0" x2="258.5" y2="982.5" stroke="#383838" stroke-width="1.1" stroke-dasharray="4.2,3.32"/>
<line x1="64.0" y1="763.4" x2="64.0" y2="983.2" stroke="#3a3a3a" stroke-width="1.25"/>
<line x1="63.3" y1="982.5" x2="325.4" y2="982.5" stroke="#3a3a3a" stroke-width="1.25"/>
<line x1="60.2" y1="982.5" x2="64.0" y2="982.5" stroke="#484848" stroke-width="1.1"/>
<text transform="translate(57.5,984.6) scale(1.0,1)" font-size="8.56" text-anchor="end" fill="#1a1a1a">5.0</text>
<line x1="60.2" y1="958.2" x2="64.0" y2="958.2" stroke="#484848" stroke-width="1.1"/>
<text transform="translate(57.5,960.3) scale(1.0,1)" font-size="8.56" text-anchor="end" fill="#1a1a1a">5.5</text>
<line x1="60.2" y1="933.8" x2="64.0" y2="933.8" stroke="#484848" stroke-width="1.1"/>
<text transform="translate(57.5,935.9) scale(1.0,1)" font-size="8.56" text-anchor="end" fill="#1a1a1a">6.0</text>
<line x1="60.2" y1="909.5" x2="64.0" y2="909.5" stroke="#484848" stroke-width="1.1"/>
<text transform="translate(57.5,911.6) scale(1.0,1)" font-size="8.56" text-anchor="end" fill="#1a1a1a">6.5</text>
<line x1="60.2" y1="885.2" x2="64.0" y2="885.2" stroke="#484848" stroke-width="1.1"/>
<text transform="translate(57.5,887.3) scale(1.0,1)" font-size="8.56" text-anchor="end" fill="#1a1a1a">7.0</text>
<line x1="60.2" y1="860.8" x2="64.0" y2="860.8" stroke="#484848" stroke-width="1.1"/>
<text transform="translate(57.5,862.9) scale(1.0,1)" font-size="8.56" text-anchor="end" fill="#1a1a1a">7.5</text>
<line x1="60.2" y1="836.5" x2="64.0" y2="836.5" stroke="#484848" stroke-width="1.1"/>
<text transform="translate(57.5,838.6) scale(1.0,1)" font-size="8.56" text-anchor="end" fill="#1a1a1a">8.0</text>
<line x1="60.2" y1="812.2" x2="64.0" y2="812.2" stroke="#484848" stroke-width="1.1"/>
<text transform="translate(57.5,814.3) scale(1.0,1)" font-size="8.56" text-anchor="end" fill="#1a1a1a">8.5</text>
<line x1="60.2" y1="787.8" x2="64.0" y2="787.8" stroke="#484848" stroke-width="1.1"/>
<text transform="translate(57.5,789.9) scale(1.0,1)" font-size="8.56" text-anchor="end" fill="#1a1a1a">9.0</text>
<line x1="60.2" y1="763.5" x2="64.0" y2="763.5" stroke="#484848" stroke-width="1.1"/>
<text transform="translate(57.5,765.6) scale(1.0,1)" font-size="8.56" text-anchor="end" fill="#1a1a1a">9.5</text>
<line x1="62.0" y1="970.3" x2="64.0" y2="970.3" stroke="#484848" stroke-width="1.0"/>
<line x1="62.0" y1="946.0" x2="64.0" y2="946.0" stroke="#484848" stroke-width="1.0"/>
<line x1="62.0" y1="921.7" x2="64.0" y2="921.7" stroke="#484848" stroke-width="1.0"/>
<line x1="62.0" y1="897.3" x2="64.0" y2="897.3" stroke="#484848" stroke-width="1.0"/>
<line x1="62.0" y1="873.0" x2="64.0" y2="873.0" stroke="#484848" stroke-width="1.0"/>
<line x1="62.0" y1="848.7" x2="64.0" y2="848.7" stroke="#484848" stroke-width="1.0"/>
<line x1="62.0" y1="824.3" x2="64.0" y2="824.3" stroke="#484848" stroke-width="1.0"/>
<line x1="62.0" y1="800.0" x2="64.0" y2="800.0" stroke="#484848" stroke-width="1.0"/>
<line x1="62.0" y1="775.7" x2="64.0" y2="775.7" stroke="#484848" stroke-width="1.0"/>
<line x1="64.0" y1="982.5" x2="64.0" y2="986.3" stroke="#484848" stroke-width="1.1"/>
<text x="64.0" y="995.0" font-size="7.9" text-anchor="middle" fill="#1a1a1a">2022/1/25</text>
<line x1="107.6" y1="982.5" x2="107.6" y2="986.3" stroke="#484848" stroke-width="1.1"/>
<text x="107.6" y="995.0" font-size="7.9" text-anchor="middle" fill="#1a1a1a">2022/2/15</text>
<line x1="151.2" y1="982.5" x2="151.2" y2="986.3" stroke="#484848" stroke-width="1.1"/>
<text x="151.2" y="995.0" font-size="7.9" text-anchor="middle" fill="#1a1a1a">2022/3/8</text>
<line x1="194.8" y1="982.5" x2="194.8" y2="986.3" stroke="#484848" stroke-width="1.1"/>
<text x="194.8" y="995.0" font-size="7.9" text-anchor="middle" fill="#1a1a1a">2022/3/29</text>
<line x1="238.4" y1="982.5" x2="238.4" y2="986.3" stroke="#484848" stroke-width="1.1"/>
<text x="238.4" y="995.0" font-size="7.9" text-anchor="middle" fill="#1a1a1a">2022/4/19</text>
<line x1="282.0" y1="982.5" x2="282.0" y2="986.3" stroke="#484848" stroke-width="1.1"/>
<text x="282.0" y="995.0" font-size="7.9" text-anchor="middle" fill="#1a1a1a">2022/5/10</text>
<line x1="325.6" y1="982.5" x2="325.6" y2="986.3" stroke="#484848" stroke-width="1.1"/>
<text x="325.6" y="995.0" font-size="7.9" text-anchor="middle" fill="#1a1a1a">2022/5/31</text>
<line x1="93.1" y1="982.5" x2="93.1" y2="984.5" stroke="#484848" stroke-width="1.0"/>
<line x1="136.7" y1="982.5" x2="136.7" y2="984.5" stroke="#484848" stroke-width="1.0"/>
<line x1="180.3" y1="982.5" x2="180.3" y2="984.5" stroke="#484848" stroke-width="1.0"/>
<line x1="223.9" y1="982.5" x2="223.9" y2="984.5" stroke="#484848" stroke-width="1.0"/>
<line x1="267.4" y1="982.5" x2="267.4" y2="984.5" stroke="#484848" stroke-width="1.0"/>
<line x1="311.0" y1="982.5" x2="311.0" y2="984.5" stroke="#484848" stroke-width="1.0"/>
<rect x="269.4" y="761.0" width="36.2" height="45.4" fill="#fff" stroke="#888" stroke-width="0.8"/>
<line x1="270.2" y1="767.4" x2="290.8" y2="767.4" stroke="#8c1a1a" stroke-width="1.8"/>
<line x1="270.2" y1="778.0" x2="290.8" y2="778.0" stroke="#d63a3a" stroke-width="1.0"/>
<text x="292.4" y="770.7" font-size="8.5" fill="#1a1a1a" textLength="11.4" lengthAdjust="spacingAndGlyphs">CES</text>
<text x="292.6" y="781.3" font-size="8.5" fill="#1a1a1a" textLength="10.9" lengthAdjust="spacingAndGlyphs">TES</text>
<text x="270.9" y="792.4" font-size="8.5" fill="#1a1a1a" textLength="32.7" lengthAdjust="spacingAndGlyphs">PHE begin</text>
<text x="270.9" y="803.1" font-size="8.5" fill="#1a1a1a" textLength="27.1" lengthAdjust="spacingAndGlyphs">PHE end</text>
<text x="303.6" y="976.6" font-size="10.4" fill="#1a1a1a" textLength="19.8" lengthAdjust="spacingAndGlyphs">Date</text>
<text x="0" y="0" transform="translate(41.2,877.8) rotate(-90)" font-size="10.3" text-anchor="middle" fill="#1a1a1a" textLength="67.8" lengthAdjust="spacingAndGlyphs">CO2 emission (t)</text>
<text x="1.4" y="881.0" font-size="12.5" font-weight="bold" fill="#1a1a1a">(d)</text>
<rect x="539.5" y="765.0" width="69.6" height="215.9" fill="#f2f2f2"/>
<text x="490.5" y="779.4" font-size="10.4" font-weight="bold" font-style="italic" text-anchor="middle" fill="#1a1a1a">Industry</text>
<text x="490.5" y="793.6" font-size="10.4" font-weight="bold" font-style="italic" text-anchor="middle" fill="#1a1a1a">Tianjin<tspan font-size="6.5" dy="-3.5">1</tspan></text>
<polygon points="545.6,941.1 547.2,868.3 549.6,869.9 552.8,873.1 555.3,871.5 557.7,869.9 560.1,872.3 562.5,872.3 564.4,869.6 567.0,871.5 568.9,873.9 571.3,866.7 573.4,863.5 575.0,867.5 577.3,862.7 579.3,869.1 580.9,877.2 582.6,878.3 584.2,885.2 586.6,884.4 588.2,877.2 589.8,874.7 591.1,844.2 593.3,849.1 595.4,855.5 597.0,865.1 598.6,858.7 600.2,853.1 602.6,863.5 605.0,862.7 607.4,857.9 609.4,853.1 611.5,860.3 613.6,865.1 616.0,859.5 617.9,865.1 620.3,873.1 622.7,878.0 625.1,868.3 627.5,871.5 630.7,863.5 633.9,877.2 636.0,872.3 638.0,874.7 640.4,867.5 644.4,857.9 644.4,814.5 638.8,834.6 636.4,831.4 633.9,837.0 631.1,813.7 628.0,823.4 625.4,819.3 622.7,831.4 620.3,826.6 617.9,812.1 615.8,808.9 613.6,814.5 611.5,807.3 609.4,801.7 607.1,806.5 604.2,813.7 601.8,812.9 599.7,801.7 597.0,815.3 595.4,804.1 593.8,799.3 591.4,790.4 589.8,856.3 588.5,857.9 586.6,864.3 584.6,865.1 582.6,858.7 580.9,857.9 579.3,850.7 576.9,841.0 574.5,846.6 572.9,842.6 571.3,845.8 568.9,853.9 567.0,851.5 564.1,849.1 562.2,852.6 560.1,852.3 557.7,849.1 555.3,852.3 552.8,853.9 548.8,849.1 546.4,848.3 545.6,941.1" fill="#ffcccc" stroke="none" style="mix-blend-mode:multiply"/>
<polyline points="435.2,871.3 436.9,871.7 439.9,865.2 442.5,866.4 444.3,869.6 446.4,869.2 448.7,859.9 450.9,857.0 452.7,857.3 454.8,852.9 457.4,847.7 459.2,852.0 460.9,851.2 461.8,891.5 463.9,892.7 467.0,887.1 470.9,883.9 473.7,887.1 475.8,884.5 478.4,886.2 482.8,890.6 486.3,889.7 490.7,890.9 494.2,895.0 497.0,897.1 500.3,906.3 502.2,918.1 503.9,929.9 505.2,930.6 506.6,959.5 508.1,960.4 510.1,960.8 512.1,962.8 513.4,960.1 515.4,952.9 518.0,949.0 520.0,949.0 522.6,945.0 524.6,946.4 527.8,943.1 529.8,938.5 531.8,933.9 533.8,933.9 535.7,929.3 538.4,925.3 540.3,930.6 542.6,936.5 544.3,943.1 545.6,941.1 547.2,868.3 549.6,869.9 552.8,873.1 555.3,871.5 557.7,869.9 560.1,872.3 562.5,872.3 564.4,869.6 567.0,871.5 568.9,873.9 571.3,866.7 573.4,863.5 575.0,867.5 577.3,862.7 579.3,869.1 580.9,877.2 582.6,878.3 584.2,885.2 586.6,884.4 588.2,877.2 589.8,874.7 591.1,844.2 593.3,849.1 595.4,855.5 597.0,865.1 598.6,858.7 600.2,853.1 602.6,863.5 605.0,862.7 607.4,857.9 609.4,853.1 611.5,860.3 613.6,865.1 616.0,859.5 617.9,865.1 620.3,873.1 622.7,878.0 625.1,868.3 627.5,871.5 630.7,863.5 633.9,877.2 636.0,872.3 638.0,874.7 640.4,867.5 644.4,857.9" fill="none" stroke="#8c1a1a" stroke-width="1.9" stroke-linejoin="round"/>
<polyline points="545.6,941.1 546.4,848.3 548.8,849.1 552.8,853.9 555.3,852.3 557.7,849.1 560.1,852.3 562.2,852.6 564.1,849.1 567.0,851.5 568.9,853.9 571.3,845.8 572.9,842.6 574.5,846.6 576.9,841.0 579.3,850.7 580.9,857.9 582.6,858.7 584.6,865.1 586.6,864.3 588.5,857.9 589.8,856.3 591.4,790.4 593.8,799.3 595.4,804.1 597.0,815.3 599.7,801.7 601.8,812.9 604.2,813.7 607.1,806.5 609.4,801.7 611.5,807.3 613.6,814.5 615.8,808.9 617.9,812.1 620.3,826.6 622.7,831.4 625.4,819.3 628.0,823.4 631.1,813.7 633.9,837.0 636.4,831.4 638.8,834.6 644.4,814.5" fill="none" stroke="#d63a3a" stroke-width="0.9" stroke-linejoin="round"/>
<polyline points="435.2,871.3 436.9,871.7 439.9,865.2 442.5,866.4 444.3,869.6 446.4,869.2 448.7,859.9 450.9,857.0 452.7,857.3 454.8,852.9 457.4,847.7 459.2,852.0 460.9,851.2 461.8,891.5 463.9,892.7 467.0,887.1 470.9,883.9 473.7,887.1 475.8,884.5 478.4,886.2 482.8,890.6 486.3,889.7 490.7,890.9 494.2,895.0 497.0,897.1 500.3,906.3 502.2,918.1 503.9,929.9 505.2,930.6 506.6,959.5 508.1,960.4 510.1,960.8 512.1,962.8 513.4,960.1 515.4,952.9 518.0,949.0 520.0,949.0 522.6,945.0 524.6,946.4 527.8,943.1 529.8,938.5 531.8,933.9 533.8,933.9 535.7,929.3 538.4,925.3 540.3,930.6 542.6,936.5 544.3,943.1 545.6,941.1" fill="none" stroke="#b41c1c" stroke-width="1.45" stroke-linejoin="round"/>
<line x1="539.5" y1="765.0" x2="539.5" y2="980.9" stroke="#383838" stroke-width="1.1" stroke-dasharray="4.2,3.32"/>
<line x1="609.1" y1="765.0" x2="609.1" y2="980.9" stroke="#383838" stroke-width="1.1" stroke-dasharray="4.2,3.32"/>
<line x1="405.5" y1="763.6" x2="405.5" y2="981.6" stroke="#3a3a3a" stroke-width="1.25"/>
<line x1="404.8" y1="980.9" x2="671.6" y2="980.9" stroke="#3a3a3a" stroke-width="1.25"/>
<line x1="401.7" y1="980.9" x2="405.5" y2="980.9" stroke="#484848" stroke-width="1.1"/>
<text transform="translate(399.0,982.8) scale(0.84,1)" font-size="8.56" text-anchor="end" fill="#1a1a1a">8</text>
<line x1="401.7" y1="953.8" x2="405.5" y2="953.8" stroke="#484848" stroke-width="1.1"/>
<text transform="translate(399.0,955.7) scale(0.84,1)" font-size="8.56" text-anchor="end" fill="#1a1a1a">10</text>
<line x1="401.7" y1="926.7" x2="405.5" y2="926.7" stroke="#484848" stroke-width="1.1"/>
<text transform="translate(399.0,928.6) scale(0.84,1)" font-size="8.56" text-anchor="end" fill="#1a1a1a">12</text>
<line x1="401.7" y1="899.5" x2="405.5" y2="899.5" stroke="#484848" stroke-width="1.1"/>
<text transform="translate(399.0,901.4) scale(0.84,1)" font-size="8.56" text-anchor="end" fill="#1a1a1a">14</text>
<line x1="401.7" y1="872.4" x2="405.5" y2="872.4" stroke="#484848" stroke-width="1.1"/>
<text transform="translate(399.0,874.3) scale(0.84,1)" font-size="8.56" text-anchor="end" fill="#1a1a1a">16</text>
<line x1="401.7" y1="845.3" x2="405.5" y2="845.3" stroke="#484848" stroke-width="1.1"/>
<text transform="translate(399.0,847.2) scale(0.84,1)" font-size="8.56" text-anchor="end" fill="#1a1a1a">18</text>
<line x1="401.7" y1="818.2" x2="405.5" y2="818.2" stroke="#484848" stroke-width="1.1"/>
<text transform="translate(399.0,820.1) scale(0.84,1)" font-size="8.56" text-anchor="end" fill="#1a1a1a">20</text>
<line x1="401.7" y1="791.1" x2="405.5" y2="791.1" stroke="#484848" stroke-width="1.1"/>
<text transform="translate(399.0,793.0) scale(0.84,1)" font-size="8.56" text-anchor="end" fill="#1a1a1a">22</text>
<line x1="401.7" y1="763.9" x2="405.5" y2="763.9" stroke="#484848" stroke-width="1.1"/>
<text transform="translate(399.0,765.8) scale(0.84,1)" font-size="8.56" text-anchor="end" fill="#1a1a1a">24</text>
<line x1="403.5" y1="967.3" x2="405.5" y2="967.3" stroke="#484848" stroke-width="1.0"/>
<line x1="403.5" y1="940.2" x2="405.5" y2="940.2" stroke="#484848" stroke-width="1.0"/>
<line x1="403.5" y1="913.1" x2="405.5" y2="913.1" stroke="#484848" stroke-width="1.0"/>
<line x1="403.5" y1="886.0" x2="405.5" y2="886.0" stroke="#484848" stroke-width="1.0"/>
<line x1="403.5" y1="858.9" x2="405.5" y2="858.9" stroke="#484848" stroke-width="1.0"/>
<line x1="403.5" y1="831.7" x2="405.5" y2="831.7" stroke="#484848" stroke-width="1.0"/>
<line x1="403.5" y1="804.6" x2="405.5" y2="804.6" stroke="#484848" stroke-width="1.0"/>
<line x1="403.5" y1="777.5" x2="405.5" y2="777.5" stroke="#484848" stroke-width="1.0"/>
<line x1="405.0" y1="980.9" x2="405.0" y2="984.7" stroke="#484848" stroke-width="1.1"/>
<text x="405.0" y="994.0" font-size="7.8" text-anchor="middle" fill="#1a1a1a">2021/11/22</text>
<line x1="448.0" y1="980.9" x2="448.0" y2="984.7" stroke="#484848" stroke-width="1.1"/>
<text x="448.0" y="994.0" font-size="7.8" text-anchor="middle" fill="#1a1a1a">2021/12/22</text>
<line x1="492.4" y1="980.9" x2="492.4" y2="984.7" stroke="#484848" stroke-width="1.1"/>
<text x="492.4" y="994.0" font-size="7.8" text-anchor="middle" fill="#1a1a1a">2022/1/22</text>
<line x1="536.8" y1="980.9" x2="536.8" y2="984.7" stroke="#484848" stroke-width="1.1"/>
<text x="536.8" y="994.0" font-size="7.8" text-anchor="middle" fill="#1a1a1a">2022/2/22</text>
<line x1="577.0" y1="980.9" x2="577.0" y2="984.7" stroke="#484848" stroke-width="1.1"/>
<text x="577.0" y="994.0" font-size="7.8" text-anchor="middle" fill="#1a1a1a">2022/3/22</text>
<line x1="621.4" y1="980.9" x2="621.4" y2="984.7" stroke="#484848" stroke-width="1.1"/>
<text x="621.4" y="994.0" font-size="7.8" text-anchor="middle" fill="#1a1a1a">2022/4/22</text>
<line x1="664.4" y1="980.9" x2="664.4" y2="984.7" stroke="#484848" stroke-width="1.1"/>
<text x="664.4" y="994.0" font-size="7.8" text-anchor="middle" fill="#1a1a1a">2022/5/22</text>
<line x1="426.5" y1="980.9" x2="426.5" y2="982.9" stroke="#484848" stroke-width="1.0"/>
<line x1="470.9" y1="980.9" x2="470.9" y2="982.9" stroke="#484848" stroke-width="1.0"/>
<line x1="515.3" y1="980.9" x2="515.3" y2="982.9" stroke="#484848" stroke-width="1.0"/>
<line x1="555.5" y1="980.9" x2="555.5" y2="982.9" stroke="#484848" stroke-width="1.0"/>
<line x1="599.9" y1="980.9" x2="599.9" y2="982.9" stroke="#484848" stroke-width="1.0"/>
<line x1="642.9" y1="980.9" x2="642.9" y2="982.9" stroke="#484848" stroke-width="1.0"/>
<rect x="418.0" y="763.4" width="36.4" height="45.0" fill="#fff" stroke="#888" stroke-width="0.8"/>
<line x1="418.8" y1="769.6" x2="439.5" y2="769.6" stroke="#8c1a1a" stroke-width="1.8"/>
<line x1="418.8" y1="780.6" x2="439.5" y2="780.6" stroke="#d63a3a" stroke-width="1.0"/>
<text x="441.1" y="772.9" font-size="8.5" fill="#1a1a1a" textLength="11.4" lengthAdjust="spacingAndGlyphs">CES</text>
<text x="441.3" y="783.9" font-size="8.5" fill="#1a1a1a" textLength="11.0" lengthAdjust="spacingAndGlyphs">TES</text>
<text x="419.5" y="794.6" font-size="8.5" fill="#1a1a1a" textLength="32.9" lengthAdjust="spacingAndGlyphs">PHE begin</text>
<text x="419.5" y="805.3" font-size="8.5" fill="#1a1a1a" textLength="27.3" lengthAdjust="spacingAndGlyphs">PHE end</text>
<text x="646.6" y="971.0" font-size="10.4" fill="#1a1a1a" textLength="19.8" lengthAdjust="spacingAndGlyphs">Date</text>
<text x="0" y="0" transform="translate(383.4,871.1) rotate(-90)" font-size="10.3" text-anchor="middle" fill="#1a1a1a" textLength="67.8" lengthAdjust="spacingAndGlyphs">CO2 emission (t)</text>
</svg></body></html>
